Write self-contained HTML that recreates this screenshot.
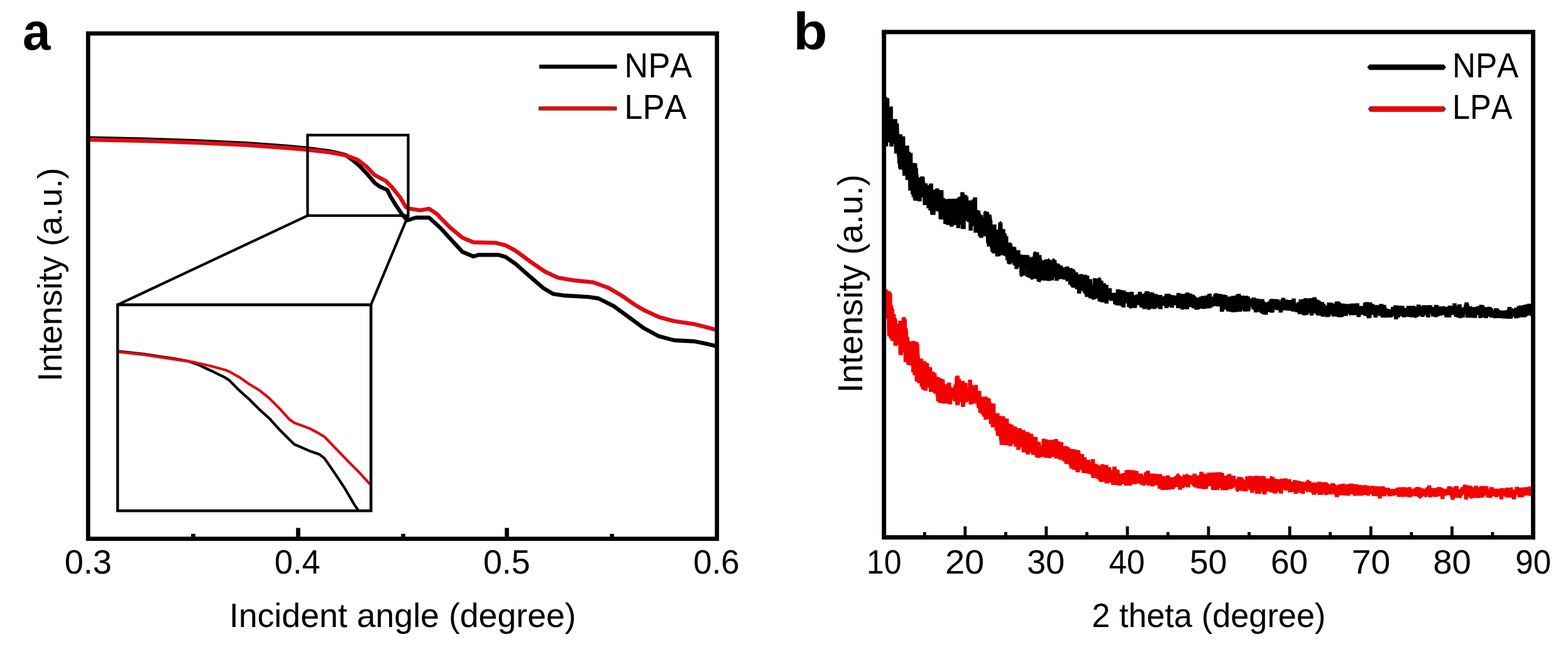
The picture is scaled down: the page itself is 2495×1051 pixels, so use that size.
<!DOCTYPE html>
<html lang="en">
<head>
<meta charset="utf-8">
<title>Intensity vs incident angle and 2 theta</title>
<style>
html,body{margin:0;padding:0;background:#fff;}
body{width:2495px;height:1051px;overflow:hidden;}
svg{display:block;}
text{font-family:"Liberation Sans", Arial, Helvetica, sans-serif;fill:#000;font-kerning:none;}
.lab{font-weight:bold;}
</style>
</head>
<body>
<svg width="2495" height="1051" viewBox="0 0 2495 1051">
<rect width="2495" height="1051" fill="#fff"/>
<g>
<g id="panel-a">
<clipPath id="ca"><rect x="140.2" y="53.2" width="1000.6" height="803.5"/></clipPath>
<g clip-path="url(#ca)" fill="none" stroke-linejoin="round" stroke-linecap="butt">
<polyline points="140.0,219.7 232.0,221.8 312.0,224.5 392.0,228.2 457.0,233.0 489.0,236.0 524.0,240.4 550.0,246.4 562.6,255.7 572.2,263.7 585.0,277.4 596.3,291.0 604.3,296.6 616.3,302.2 621.9,313.4 629.9,326.3 639.6,340.7 648.0,350.3 662.0,346.0 682.8,346.0 700.5,362.1 716.5,379.7 735.8,400.5 753.4,407.8 761.4,405.3 793.5,405.3 804.7,408.6 820.7,419.8 840.0,436.9 864.0,457.7 880.0,467.3 896.2,469.7 936.3,472.1 952.3,474.5 976.4,486.6 1000.4,504.2 1024.5,521.8 1048.5,534.7 1072.5,541.0 1104.6,542.7 1120.6,545.9 1140.0,550.3" stroke="#000" stroke-width="6.4"/>
<polyline points="140.0,222.0 232.0,224.1 312.0,226.8 392.0,230.5 457.0,235.3 489.0,238.1 524.0,242.1 550.0,246.9 569.0,254.1 582.0,263.7 596.0,278.2 614.0,287.8 623.5,297.4 636.4,313.4 646.0,329.5 652.4,331.9 668.4,334.3 682.8,331.9 695.7,340.7 700.5,346.0 716.5,362.0 735.8,378.0 753.4,385.3 788.7,386.1 804.7,390.1 820.7,398.9 844.8,416.6 867.3,432.0 888.2,441.7 912.2,445.7 944.3,448.9 968.3,457.7 992.4,472.1 1008.4,483.4 1024.5,493.0 1048.5,504.2 1072.5,510.6 1104.6,515.4 1120.6,519.4 1140.0,524.6" stroke="#e00a14" stroke-width="6.4"/>
</g>
<g fill="none" stroke="#000" stroke-width="4.2">
<rect x="489.4" y="214.8" width="160.1" height="128.0"/>
<line x1="489.4" y1="342.8" x2="187.1" y2="484.7"/>
<line x1="649.5" y1="342.8" x2="590.2" y2="484.7"/>
<rect x="187.1" y="484.7" width="403.1" height="327.4" fill="#fff"/>
</g>
<clipPath id="ci"><rect x="187.1" y="484.7" width="403.1" height="327.4"/></clipPath>
<g clip-path="url(#ci)" fill="none" stroke-linejoin="round">
<polyline points="187.0,558.4 230.2,563.2 278.3,570.4 300.0,574.4 316.0,580.0 326.4,585.0 340.0,591.3 356.1,599.3 364.1,604.1 380.2,620.2 396.2,634.6 412.2,650.6 428.3,665.0 444.3,682.7 460.3,698.7 468.3,706.5 492.4,716.9 508.4,722.5 516.4,728.9 532.5,752.1 548.5,776.2 564.5,803.4 570.5,812.0" stroke="#000" stroke-width="4.2"/>
<polyline points="187.0,559.4 230.2,564.2 278.3,571.4 310.3,576.2 334.4,581.8 358.4,588.3 364.1,590.5 380.2,599.3 396.2,610.5 412.2,620.2 428.3,633.0 444.3,649.0 460.3,666.7 468.3,672.3 492.4,681.1 508.4,689.7 516.4,694.5 532.5,711.3 556.5,736.1 572.5,752.1 590.0,771.3" stroke="#e00a14" stroke-width="4.2"/>
</g>
<rect x="187.1" y="484.7" width="403.1" height="327.4" fill="none" stroke="#000" stroke-width="4.2"/>
<rect x="140.2" y="53.2" width="1000.6" height="803.5" fill="none" stroke="#000" stroke-width="6.7" stroke-linejoin="miter"/>
<rect x="471.1" y="839.4" width="6.7" height="15" fill="#000"/>
<rect x="803.2" y="839.4" width="6.7" height="15" fill="#000"/>
<rect x="304.1" y="848.8" width="6.7" height="5.6" fill="#000"/>
<rect x="638.2" y="848.8" width="6.7" height="5.6" fill="#000"/>
<rect x="970.4" y="848.8" width="6.7" height="5.6" fill="#000"/>
<text transform="translate(102.63 912.06) scale(0.9965 1)" font-size="54.37">0.3</text>
<text transform="translate(436.80 912.06) scale(0.9657 1)" font-size="54.37">0.4</text>
<text transform="translate(768.95 912.06) scale(0.9899 1)" font-size="54.37">0.5</text>
<text transform="translate(1103.29 912.06) scale(0.9711 1)" font-size="54.37">0.6</text>
<text transform="translate(364.77 997.34) scale(1.0099 1)" font-size="53.16">Incident angle (degree)</text>
<text transform="translate(97.58 606.84) rotate(-90) scale(0.9970 1)" font-size="53.90">Intensity (a.u.)</text>
<line x1="858.2" y1="106" x2="981.6" y2="106" stroke="#000" stroke-width="6.5"/>
<line x1="857.0" y1="172.4" x2="981.6" y2="172.4" stroke="#8f2a2e" stroke-width="6.5"/>
<line x1="864.5" y1="171.6" x2="975.5" y2="171.6" stroke="#e40a06" stroke-width="4.9"/>
<text transform="translate(993.61 122.90) scale(0.9364 1)" font-size="55.94">NPA</text>
<text transform="translate(993.62 189.30) scale(0.9373 1)" font-size="55.80">LPA</text>
<text class="lab" transform="translate(35.91 78.77) scale(0.9626 1)" font-size="82.91">a</text>
</g>
<g id="panel-b">
<clipPath id="cb"><rect x="1406.6" y="50.9" width="1032.9" height="803.5"/></clipPath>
<g clip-path="url(#cb)">
<polyline points="1404.0,162.4 1404.3,201.1 1404.7,159.9 1405.0,190.4 1405.3,162.6 1405.7,160.8 1406.0,229.0 1406.3,215.8 1406.6,232.5 1407.0,185.6 1407.3,194.9 1407.6,196.3 1408.0,199.5 1408.3,209.5 1408.6,154.1 1409.0,209.9 1409.3,159.5 1409.6,193.9 1409.9,232.7 1410.3,193.3 1410.6,188.2 1410.9,209.8 1411.3,197.5 1411.6,173.5 1411.9,156.1 1412.2,185.2 1412.6,172.7 1412.9,219.9 1413.2,206.8 1413.6,226.3 1413.9,218.2 1414.2,199.7 1414.6,197.2 1414.9,195.5 1415.2,193.4 1415.5,187.6 1415.9,201.5 1416.2,180.2 1416.5,200.2 1416.9,199.9 1417.2,170.0 1417.5,170.9 1417.9,224.4 1418.2,200.8 1418.5,233.0 1418.8,216.8 1419.2,213.4 1419.5,209.1 1419.8,189.4 1420.2,222.2 1420.5,210.6 1420.8,199.5 1421.2,203.5 1421.5,219.2 1421.8,221.4 1422.2,228.6 1422.5,197.1 1422.8,223.1 1423.1,226.7 1423.5,224.7 1423.8,201.3 1424.1,224.6 1424.5,189.3 1424.8,211.7 1425.1,195.1 1425.5,220.3 1425.8,226.0 1426.1,244.3 1426.4,210.3 1426.8,226.4 1427.1,196.5 1427.4,214.7 1427.8,210.8 1428.1,227.8 1428.4,243.5 1428.8,220.2 1429.1,219.9 1429.4,239.4 1429.7,235.7 1430.1,234.6 1430.4,248.8 1430.7,242.3 1431.1,260.2 1431.4,226.9 1431.7,234.9 1432.0,245.9 1432.4,266.8 1432.7,213.5 1433.0,269.4 1433.4,246.7 1433.7,251.6 1434.0,248.5 1434.4,231.7 1434.7,254.0 1435.0,226.8 1435.3,252.1 1435.7,231.4 1436.0,246.1 1436.3,256.7 1436.7,245.9 1437.0,216.8 1437.3,252.6 1437.7,231.9 1438.0,234.9 1438.3,270.9 1438.7,241.1 1439.0,251.1 1439.3,279.5 1439.6,256.2 1440.0,265.6 1440.3,255.5 1440.6,263.7 1441.0,260.8 1441.3,255.9 1441.6,272.0 1442.0,270.0 1442.3,236.5 1442.6,272.7 1442.9,272.2 1443.3,231.5 1443.6,251.7 1443.9,286.3 1444.3,240.9 1444.6,284.2 1444.9,253.8 1445.2,272.7 1445.6,274.1 1445.9,241.6 1446.2,286.1 1446.6,283.7 1446.9,280.8 1447.2,276.7 1447.6,265.3 1447.9,243.8 1448.2,277.0 1448.5,302.9 1448.9,243.2 1449.2,273.6 1449.5,270.2 1449.9,262.3 1450.2,259.7 1450.5,288.5 1450.9,299.3 1451.2,277.2 1451.5,283.9 1451.8,261.2 1452.2,308.7 1452.5,300.4 1452.8,288.6 1453.2,288.9 1453.5,259.1 1453.8,313.1 1454.2,279.1 1454.5,276.7 1454.8,269.0 1455.2,299.0 1455.5,290.1 1455.8,317.0 1456.1,259.8 1456.5,284.0 1456.8,319.2 1457.1,293.4 1457.5,267.4 1457.8,305.4 1458.1,294.8 1458.5,277.8 1458.8,286.0 1459.1,291.1 1459.4,293.8 1459.8,317.4 1460.1,285.2 1460.4,287.2 1460.8,293.0 1461.1,313.0 1461.4,310.3 1461.8,296.5 1462.1,312.4 1462.4,287.2 1462.7,304.0 1463.1,301.7 1463.4,320.1 1463.7,284.9 1464.1,284.7 1464.4,298.8 1464.7,313.6 1465.0,290.9 1465.4,309.9 1465.7,301.8 1466.0,307.9 1466.4,302.4 1466.7,299.6 1467.0,292.2 1467.4,280.6 1467.7,290.5 1468.0,295.3 1468.3,282.4 1468.7,311.2 1469.0,289.7 1469.3,296.7 1469.7,303.3 1470.0,300.3 1470.3,302.9 1470.7,302.6 1471.0,312.9 1471.3,314.2 1471.7,325.9 1472.0,313.3 1472.3,305.8 1472.6,291.6 1473.0,320.5 1473.3,315.3 1473.6,325.3 1474.0,302.0 1474.3,307.0 1474.6,307.2 1475.0,296.5 1475.3,322.1 1475.6,294.2 1475.9,313.5 1476.3,296.4 1476.6,314.8 1476.9,318.4 1477.3,309.3 1477.6,331.2 1477.9,311.3 1478.2,309.0 1478.6,303.2 1478.9,319.3 1479.2,311.7 1479.6,311.5 1479.9,306.5 1480.2,324.6 1480.6,334.7 1480.9,328.6 1481.2,330.6 1481.5,291.8 1481.9,307.4 1482.2,311.9 1482.5,316.9 1482.9,304.6 1483.2,334.2 1483.5,341.1 1483.9,303.3 1484.2,313.5 1484.5,319.5 1484.8,326.1 1485.2,341.7 1485.5,335.4 1485.8,328.7 1486.2,321.4 1486.5,321.2 1486.8,332.7 1487.2,301.5 1487.5,317.0 1487.8,303.7 1488.2,330.6 1488.5,320.4 1488.8,335.0 1489.1,318.2 1489.5,317.9 1489.8,309.9 1490.1,335.3 1490.5,324.0 1490.8,314.8 1491.1,299.7 1491.5,314.0 1491.8,334.3 1492.1,315.5 1492.4,302.0 1492.8,316.1 1493.1,318.3 1493.4,336.2 1493.8,310.2 1494.1,323.2 1494.4,322.1 1494.8,318.9 1495.1,312.3 1495.4,311.4 1495.7,317.2 1496.1,337.1 1496.4,313.1 1496.7,347.7 1497.1,324.7 1497.4,348.9 1497.7,337.0 1498.0,302.4 1498.4,327.2 1498.7,348.2 1499.0,347.1 1499.4,345.7 1499.7,323.6 1500.0,334.2 1500.4,316.8 1500.7,314.8 1501.0,332.9 1501.3,324.4 1501.7,316.5 1502.0,333.1 1502.3,337.2 1502.7,323.5 1503.0,329.3 1503.3,324.3 1503.7,346.5 1504.0,328.0 1504.3,356.1 1504.7,316.5 1505.0,345.7 1505.3,342.8 1505.6,326.1 1506.0,319.0 1506.3,324.9 1506.6,335.1 1507.0,336.8 1507.3,329.9 1507.6,318.5 1508.0,318.9 1508.3,333.6 1508.6,357.7 1508.9,346.9 1509.3,334.6 1509.6,347.9 1509.9,329.0 1510.3,339.7 1510.6,332.3 1510.9,316.0 1511.2,338.4 1511.6,344.9 1511.9,341.0 1512.2,329.6 1512.6,357.3 1512.9,344.9 1513.2,347.0 1513.6,352.8 1513.9,351.4 1514.2,360.4 1514.5,326.6 1514.9,333.6 1515.2,348.6 1515.5,345.7 1515.9,331.7 1516.2,329.2 1516.5,348.1 1516.9,316.3 1517.2,329.0 1517.5,330.7 1517.8,335.3 1518.2,338.0 1518.5,341.4 1518.8,316.0 1519.2,324.7 1519.5,354.1 1519.8,345.5 1520.2,357.8 1520.5,349.7 1520.8,334.4 1521.2,333.9 1521.5,339.7 1521.8,348.8 1522.1,340.9 1522.5,326.8 1522.8,332.7 1523.1,326.5 1523.5,332.5 1523.8,317.7 1524.1,327.5 1524.5,317.9 1524.8,362.7 1525.1,317.2 1525.4,332.7 1525.8,314.2 1526.1,352.5 1526.4,356.9 1526.8,342.3 1527.1,345.9 1527.4,341.9 1527.8,335.1 1528.1,319.1 1528.4,312.6 1528.7,313.6 1529.1,340.4 1529.4,343.0 1529.7,341.5 1530.1,330.0 1530.4,312.3 1530.7,332.6 1531.0,345.0 1531.4,305.5 1531.7,325.2 1532.0,363.7 1532.4,309.9 1532.7,353.8 1533.0,329.5 1533.4,364.2 1533.7,324.9 1534.0,321.3 1534.3,333.7 1534.7,335.4 1535.0,337.8 1535.3,343.2 1535.7,309.9 1536.0,344.6 1536.3,349.1 1536.7,315.5 1537.0,336.5 1537.3,331.1 1537.7,312.2 1538.0,350.8 1538.3,347.1 1538.6,327.5 1539.0,344.4 1539.3,349.5 1539.6,333.1 1540.0,347.3 1540.3,338.8 1540.6,325.2 1541.0,336.9 1541.3,336.8 1541.6,352.9 1541.9,318.5 1542.3,345.8 1542.6,352.6 1542.9,350.0 1543.3,351.1 1543.6,320.9 1543.9,337.5 1544.2,329.1 1544.6,366.7 1544.9,343.0 1545.2,330.0 1545.6,331.1 1545.9,335.5 1546.2,353.6 1546.6,339.4 1546.9,350.5 1547.2,359.2 1547.5,332.9 1547.9,343.2 1548.2,333.7 1548.5,328.9 1548.9,317.4 1549.2,351.4 1549.5,321.9 1549.9,344.9 1550.2,347.4 1550.5,355.7 1550.8,332.8 1551.2,344.4 1551.5,313.7 1551.8,339.2 1552.2,343.7 1552.5,370.0 1552.8,341.1 1553.2,358.4 1553.5,347.6 1553.8,357.9 1554.2,356.3 1554.5,357.3 1554.8,334.1 1555.1,363.9 1555.5,343.1 1555.8,364.6 1556.1,367.8 1556.5,350.1 1556.8,335.4 1557.1,349.8 1557.5,349.8 1557.8,339.7 1558.1,347.3 1558.4,347.4 1558.8,365.7 1559.1,372.6 1559.4,375.3 1559.8,347.7 1560.1,353.0 1560.4,363.3 1560.8,341.9 1561.1,350.7 1561.4,378.3 1561.7,361.1 1562.1,350.5 1562.4,365.3 1562.7,359.3 1563.1,352.0 1563.4,349.0 1563.7,345.7 1564.0,370.1 1564.4,363.1 1564.7,372.6 1565.0,351.6 1565.4,355.6 1565.7,348.4 1566.0,354.4 1566.4,356.1 1566.7,353.2 1567.0,346.3 1567.3,363.0 1567.7,361.7 1568.0,337.4 1568.3,375.7 1568.7,337.4 1569.0,336.8 1569.3,349.0 1569.7,336.8 1570.0,375.4 1570.3,357.5 1570.7,337.0 1571.0,363.0 1571.3,350.1 1571.6,375.1 1572.0,375.4 1572.3,386.5 1572.6,371.7 1573.0,358.7 1573.3,379.4 1573.6,392.0 1574.0,342.7 1574.3,341.4 1574.6,380.6 1574.9,344.7 1575.3,358.8 1575.6,383.9 1575.9,349.9 1576.3,382.6 1576.6,378.0 1576.9,372.9 1577.2,378.8 1577.6,376.0 1577.9,390.6 1578.2,391.3 1578.6,394.6 1578.9,386.4 1579.2,399.7 1579.6,370.8 1579.9,400.6 1580.2,367.7 1580.5,365.8 1580.9,382.7 1581.2,402.2 1581.5,371.8 1581.9,403.0 1582.2,356.9 1582.5,393.4 1582.9,382.5 1583.2,365.6 1583.5,395.4 1583.8,394.7 1584.2,367.4 1584.5,379.3 1584.8,372.1 1585.2,378.2 1585.5,386.9 1585.8,373.7 1586.2,371.2 1586.5,364.9 1586.8,407.7 1587.2,394.7 1587.5,371.4 1587.8,376.0 1588.1,390.8 1588.5,403.0 1588.8,399.7 1589.1,407.1 1589.5,379.6 1589.8,380.1 1590.1,405.9 1590.5,391.7 1590.8,377.2 1591.1,381.8 1591.4,354.6 1591.8,354.7 1592.1,359.5 1592.4,367.5 1592.8,373.3 1593.1,366.5 1593.4,381.7 1593.8,372.8 1594.1,375.5 1594.4,378.2 1594.7,400.6 1595.1,391.1 1595.4,371.4 1595.7,374.8 1596.1,382.8 1596.4,364.2 1596.7,396.8 1597.0,406.0 1597.4,386.0 1597.7,386.6 1598.0,399.1 1598.4,371.7 1598.7,373.0 1599.0,391.9 1599.4,392.5 1599.7,406.8 1600.0,383.6 1600.3,396.8 1600.7,386.3 1601.0,375.6 1601.3,390.9 1601.7,392.8 1602.0,397.7 1602.3,397.4 1602.7,409.0 1603.0,405.6 1603.3,414.0 1603.7,397.3 1604.0,394.4 1604.3,396.0 1604.6,398.1 1605.0,403.8 1605.3,418.8 1605.6,395.5 1606.0,386.1 1606.3,387.6 1606.6,420.1 1607.0,393.4 1607.3,418.1 1607.6,387.6 1607.9,414.0 1608.3,408.0 1608.6,408.9 1608.9,395.3 1609.3,406.5 1609.6,395.4 1609.9,411.1 1610.2,416.9 1610.6,414.5 1610.9,409.7 1611.2,392.0 1611.6,406.1 1611.9,404.3 1612.2,403.2 1612.6,406.6 1612.9,392.6 1613.2,412.1 1613.5,405.7 1613.9,393.0 1614.2,416.4 1614.5,421.3 1614.9,401.0 1615.2,405.1 1615.5,412.2 1615.9,414.6 1616.2,422.0 1616.5,400.0 1616.8,411.3 1617.2,398.1 1617.5,427.7 1617.8,408.2 1618.2,415.4 1618.5,421.8 1618.8,420.1 1619.2,424.3 1619.5,400.5 1619.8,416.1 1620.2,397.8 1620.5,423.5 1620.8,404.7 1621.1,417.4 1621.5,405.8 1621.8,418.0 1622.1,411.3 1622.5,424.8 1622.8,413.2 1623.1,423.8 1623.5,414.1 1623.8,414.5 1624.1,404.8 1624.4,422.2 1624.8,406.2 1625.1,409.4 1625.4,437.5 1625.8,437.6 1626.1,405.5 1626.4,423.9 1626.8,411.2 1627.1,421.5 1627.4,420.3 1627.7,413.3 1628.1,438.3 1628.4,412.0 1628.7,426.1 1629.1,417.6 1629.4,412.5 1629.7,405.6 1630.0,416.0 1630.4,408.7 1630.7,422.9 1631.0,425.7 1631.4,405.2 1631.7,418.4 1632.0,421.1 1632.4,420.5 1632.7,428.4 1633.0,422.0 1633.3,421.1 1633.7,421.9 1634.0,417.6 1634.3,415.5 1634.7,405.6 1635.0,440.3 1635.3,425.2 1635.7,426.8 1636.0,428.8 1636.3,417.5 1636.7,408.4 1637.0,415.2 1637.3,434.8 1637.6,415.9 1638.0,436.0 1638.3,441.3 1638.6,410.4 1639.0,420.1 1639.3,441.6 1639.6,438.0 1640.0,429.7 1640.3,421.7 1640.6,433.6 1640.9,425.9 1641.3,438.8 1641.6,433.1 1641.9,442.3 1642.3,442.3 1642.6,442.4 1642.9,424.5 1643.2,416.7 1643.6,418.3 1643.9,418.3 1644.2,408.0 1644.6,426.9 1644.9,422.8 1645.2,432.4 1645.6,410.4 1645.9,434.5 1646.2,443.3 1646.5,422.4 1646.9,401.7 1647.2,417.3 1647.5,434.4 1647.9,401.8 1648.2,401.4 1648.5,431.9 1648.9,420.4 1649.2,410.3 1649.5,418.8 1649.8,415.0 1650.2,401.2 1650.5,431.2 1650.8,432.6 1651.2,413.8 1651.5,421.0 1651.8,439.2 1652.2,421.0 1652.5,428.0 1652.8,447.3 1653.2,446.7 1653.5,431.9 1653.8,423.6 1654.1,405.6 1654.5,435.9 1654.8,411.4 1655.1,422.8 1655.5,445.4 1655.8,422.8 1656.1,436.8 1656.5,417.2 1656.8,431.8 1657.1,433.6 1657.4,429.8 1657.8,421.9 1658.1,435.3 1658.4,445.7 1658.8,435.6 1659.1,414.8 1659.4,435.3 1659.8,413.7 1660.1,445.9 1660.4,442.9 1660.7,429.7 1661.1,445.9 1661.4,431.1 1661.7,438.8 1662.1,433.1 1662.4,421.8 1662.7,426.3 1663.0,446.1 1663.4,422.3 1663.7,442.9 1664.0,416.7 1664.4,426.0 1664.7,435.3 1665.0,412.3 1665.4,425.0 1665.7,440.3 1666.0,435.9 1666.3,424.5 1666.7,439.8 1667.0,429.3 1667.3,418.0 1667.7,438.0 1668.0,420.2 1668.3,413.7 1668.7,413.7 1669.0,446.6 1669.3,420.5 1669.7,439.4 1670.0,444.1 1670.3,418.3 1670.6,426.0 1671.0,428.3 1671.3,417.0 1671.6,434.2 1672.0,431.8 1672.3,442.8 1672.6,443.2 1673.0,432.9 1673.3,413.7 1673.6,418.2 1673.9,445.7 1674.3,429.7 1674.6,439.9 1674.9,429.7 1675.3,441.3 1675.6,429.7 1675.9,417.3 1676.2,413.7 1676.6,413.7 1676.9,428.3 1677.2,428.8 1677.6,423.5 1677.9,413.7 1678.2,426.2 1678.6,428.4 1678.9,427.9 1679.2,424.0 1679.5,431.4 1679.9,432.7 1680.2,419.8 1680.5,436.4 1680.9,438.6 1681.2,421.5 1681.5,446.5 1681.9,435.6 1682.2,440.0 1682.5,434.9 1682.8,430.3 1683.2,420.3 1683.5,419.8 1683.8,428.2 1684.2,425.0 1684.5,428.2 1684.8,443.8 1685.2,431.4 1685.5,428.4 1685.8,429.2 1686.2,434.4 1686.5,427.8 1686.8,429.0 1687.1,429.3 1687.5,422.0 1687.8,430.5 1688.1,436.6 1688.5,437.7 1688.8,427.2 1689.1,441.1 1689.5,432.0 1689.8,429.2 1690.1,431.7 1690.4,441.7 1690.8,425.9 1691.1,425.5 1691.4,443.2 1691.8,442.5 1692.1,438.5 1692.4,441.6 1692.8,433.9 1693.1,436.1 1693.4,443.8 1693.7,436.1 1694.1,444.3 1694.4,442.5 1694.7,428.4 1695.1,439.4 1695.4,434.9 1695.7,435.1 1696.0,426.0 1696.4,438.9 1696.7,437.0 1697.0,432.1 1697.4,444.4 1697.7,424.0 1698.0,425.5 1698.4,426.7 1698.7,447.3 1699.0,441.4 1699.3,438.6 1699.7,435.8 1700.0,434.4 1700.3,436.2 1700.7,442.4 1701.0,443.5 1701.3,441.9 1701.7,439.4 1702.0,433.9 1702.3,440.7 1702.7,436.2 1703.0,452.4 1703.3,426.2 1703.6,434.8 1704.0,448.6 1704.3,442.5 1704.6,434.6 1705.0,437.4 1705.3,439.7 1705.6,437.8 1706.0,454.9 1706.3,447.1 1706.6,443.9 1706.9,427.8 1707.3,446.3 1707.6,454.5 1707.9,457.3 1708.3,430.7 1708.6,432.7 1708.9,448.1 1709.2,443.9 1709.6,442.7 1709.9,439.3 1710.2,449.6 1710.6,448.9 1710.9,446.1 1711.2,442.7 1711.6,444.7 1711.9,449.3 1712.2,433.1 1712.5,446.5 1712.9,436.6 1713.2,441.8 1713.5,441.9 1713.9,460.0 1714.2,437.7 1714.5,451.1 1714.9,444.4 1715.2,448.1 1715.5,436.5 1715.8,445.7 1716.2,454.8 1716.5,453.1 1716.8,450.1 1717.2,466.6 1717.5,459.6 1717.8,457.4 1718.2,462.7 1718.5,446.1 1718.8,449.8 1719.2,446.6 1719.5,450.4 1719.8,441.6 1720.1,436.0 1720.5,441.5 1720.8,447.9 1721.1,453.8 1721.5,445.7 1721.8,455.3 1722.1,454.6 1722.5,456.0 1722.8,462.6 1723.1,451.9 1723.4,457.6 1723.8,458.8 1724.1,449.7 1724.4,446.6 1724.8,444.2 1725.1,453.9 1725.4,455.5 1725.8,447.9 1726.1,463.4 1726.4,465.7 1726.7,436.8 1727.1,460.6 1727.4,462.5 1727.7,451.7 1728.1,451.5 1728.4,445.3 1728.7,469.0 1729.0,467.3 1729.4,469.6 1729.7,471.9 1730.0,438.3 1730.4,466.5 1730.7,452.3 1731.0,445.0 1731.4,444.9 1731.7,455.2 1732.0,457.4 1732.3,447.9 1732.7,451.1 1733.0,449.0 1733.3,444.6 1733.7,460.7 1734.0,466.0 1734.3,469.1 1734.7,443.9 1735.0,458.3 1735.3,474.4 1735.7,463.7 1736.0,458.1 1736.3,464.5 1736.6,462.2 1737.0,467.0 1737.3,462.7 1737.6,462.4 1738.0,452.9 1738.3,458.4 1738.6,464.5 1739.0,468.0 1739.3,467.6 1739.6,457.1 1739.9,474.5 1740.3,476.0 1740.6,455.8 1740.9,463.9 1741.3,468.5 1741.6,459.1 1741.9,463.5 1742.2,442.3 1742.6,464.2 1742.9,459.1 1743.2,470.8 1743.6,450.5 1743.9,459.6 1744.2,463.8 1744.6,465.3 1744.9,458.2 1745.2,455.2 1745.5,458.9 1745.9,469.0 1746.2,474.5 1746.5,455.1 1746.9,454.2 1747.2,453.6 1747.5,450.7 1747.9,457.0 1748.2,466.7 1748.5,458.1 1748.8,443.6 1749.2,443.7 1749.5,451.0 1749.8,479.1 1750.2,461.9 1750.5,455.3 1750.8,468.6 1751.2,459.0 1751.5,457.1 1751.8,479.7 1752.2,446.4 1752.5,452.0 1752.8,459.7 1753.1,458.1 1753.5,450.3 1753.8,467.5 1754.1,466.6 1754.5,480.6 1754.8,468.0 1755.1,469.9 1755.5,460.0 1755.8,471.3 1756.1,474.1 1756.4,450.3 1756.8,472.3 1757.1,477.2 1757.4,465.3 1757.8,473.2 1758.1,479.3 1758.4,472.0 1758.8,471.1 1759.1,462.5 1759.4,469.4 1759.7,475.4 1760.1,455.5 1760.4,453.0 1760.7,482.7 1761.1,468.8 1761.4,475.7 1761.7,473.2 1762.0,465.0 1762.4,467.1 1762.7,459.5 1763.0,476.4 1763.4,466.0 1763.7,464.4 1764.0,471.3 1764.4,465.4 1764.7,461.0 1765.0,468.8 1765.3,469.5 1765.7,458.3 1766.0,469.6 1766.3,470.5 1766.7,473.7 1767.0,468.5 1767.3,471.4 1767.7,469.3 1768.0,468.3 1768.3,478.4 1768.7,470.9 1769.0,475.8 1769.3,470.8 1769.6,473.6 1770.0,470.2 1770.3,472.9 1770.6,471.8 1771.0,472.8 1771.3,473.6 1771.6,472.4 1772.0,477.7 1772.3,473.6 1772.6,465.7 1772.9,470.1 1773.3,466.8 1773.6,468.5 1773.9,466.0 1774.3,480.6 1774.6,483.4 1774.9,470.5 1775.2,468.9 1775.6,470.9 1775.9,480.7 1776.2,474.1 1776.6,467.2 1776.9,485.3 1777.2,474.2 1777.6,470.6 1777.9,468.6 1778.2,479.1 1778.5,477.7 1778.9,460.1 1779.2,485.6 1779.5,477.7 1779.9,479.3 1780.2,465.6 1780.5,468.7 1780.9,462.7 1781.2,480.8 1781.5,460.7 1781.8,481.5 1782.2,479.7 1782.5,474.5 1782.8,466.7 1783.2,485.1 1783.5,473.7 1783.8,485.1 1784.2,465.6 1784.5,469.4 1784.8,473.3 1785.2,486.5 1785.5,463.7 1785.8,464.2 1786.1,461.7 1786.5,468.5 1786.8,471.0 1787.1,482.4 1787.5,469.3 1787.8,488.9 1788.1,462.2 1788.5,474.9 1788.8,482.6 1789.1,474.8 1789.4,469.7 1789.8,469.3 1790.1,465.3 1790.4,476.1 1790.8,472.3 1791.1,476.0 1791.4,480.9 1791.8,464.5 1792.1,468.1 1792.4,475.1 1792.7,467.6 1793.1,475.8 1793.4,469.2 1793.7,475.3 1794.1,481.6 1794.4,465.0 1794.7,470.8 1795.0,464.6 1795.4,477.0 1795.7,471.8 1796.0,476.4 1796.4,488.2 1796.7,469.3 1797.0,485.9 1797.4,484.8 1797.7,472.1 1798.0,488.5 1798.3,488.3 1798.7,480.3 1799.0,485.8 1799.3,473.8 1799.7,473.9 1800.0,484.2 1800.3,467.9 1800.7,464.1 1801.0,469.8 1801.3,471.9 1801.7,480.8 1802.0,478.1 1802.3,472.1 1802.6,474.0 1803.0,469.2 1803.3,480.6 1803.6,485.9 1804.0,469.5 1804.3,489.4 1804.6,486.0 1805.0,474.3 1805.3,474.3 1805.6,481.9 1805.9,489.7 1806.3,480.1 1806.6,476.9 1806.9,471.9 1807.3,477.5 1807.6,483.4 1807.9,471.9 1808.2,484.0 1808.6,471.0 1808.9,480.9 1809.2,480.7 1809.6,476.3 1809.9,477.9 1810.2,468.2 1810.6,481.7 1810.9,474.1 1811.2,472.7 1811.5,476.5 1811.9,482.7 1812.2,484.8 1812.5,476.4 1812.9,471.0 1813.2,475.1 1813.5,469.6 1813.9,464.0 1814.2,480.3 1814.5,482.7 1814.8,480.0 1815.2,482.9 1815.5,483.1 1815.8,468.5 1816.2,483.7 1816.5,488.9 1816.8,480.9 1817.2,476.1 1817.5,477.8 1817.8,474.0 1818.2,478.3 1818.5,467.4 1818.8,478.4 1819.1,482.4 1819.5,482.1 1819.8,469.6 1820.1,477.2 1820.5,477.0 1820.8,491.5 1821.1,472.0 1821.5,484.0 1821.8,471.9 1822.1,472.0 1822.4,469.0 1822.8,480.2 1823.1,465.6 1823.4,489.8 1823.8,468.0 1824.1,484.8 1824.4,474.6 1824.8,463.2 1825.1,467.0 1825.4,482.5 1825.7,463.4 1826.1,472.5 1826.4,486.3 1826.7,478.9 1827.1,473.9 1827.4,474.5 1827.7,483.9 1828.0,492.4 1828.4,484.8 1828.7,464.9 1829.0,475.3 1829.4,465.7 1829.7,478.4 1830.0,490.6 1830.4,482.7 1830.7,478.3 1831.0,476.0 1831.3,465.0 1831.7,470.1 1832.0,477.3 1832.3,487.5 1832.7,472.1 1833.0,475.3 1833.3,481.0 1833.7,465.7 1834.0,474.9 1834.3,471.8 1834.7,489.1 1835.0,475.3 1835.3,469.0 1835.6,478.4 1836.0,486.1 1836.3,472.1 1836.6,486.9 1837.0,491.1 1837.3,467.8 1837.6,481.9 1838.0,481.7 1838.3,479.0 1838.6,487.8 1838.9,485.6 1839.3,467.5 1839.6,478.0 1839.9,474.1 1840.3,474.2 1840.6,481.0 1840.9,471.7 1841.2,476.2 1841.6,481.6 1841.9,489.1 1842.2,476.3 1842.6,486.0 1842.9,488.5 1843.2,475.3 1843.6,479.0 1843.9,476.0 1844.2,481.1 1844.5,486.1 1844.9,489.4 1845.2,482.9 1845.5,472.1 1845.9,477.8 1846.2,469.1 1846.5,491.5 1846.9,482.5 1847.2,480.9 1847.5,482.0 1847.8,484.2 1848.2,476.7 1848.5,485.9 1848.8,476.0 1849.2,484.2 1849.5,479.5 1849.8,480.6 1850.2,479.1 1850.5,482.4 1850.8,474.1 1851.2,478.9 1851.5,472.8 1851.8,473.0 1852.1,474.0 1852.5,482.3 1852.8,471.7 1853.1,477.7 1853.5,479.2 1853.8,480.3 1854.1,481.4 1854.5,470.8 1854.8,486.7 1855.1,470.3 1855.4,478.6 1855.8,472.1 1856.1,490.0 1856.4,467.4 1856.8,482.7 1857.1,480.6 1857.4,473.3 1857.8,478.0 1858.1,480.8 1858.4,478.3 1858.7,481.9 1859.1,483.1 1859.4,467.1 1859.7,472.8 1860.1,471.5 1860.4,473.9 1860.7,485.5 1861.0,472.9 1861.4,472.9 1861.7,476.7 1862.0,482.5 1862.4,478.7 1862.7,487.5 1863.0,482.8 1863.4,475.6 1863.7,477.2 1864.0,482.1 1864.3,469.1 1864.7,489.1 1865.0,480.6 1865.3,481.9 1865.7,478.9 1866.0,476.1 1866.3,482.6 1866.7,472.5 1867.0,471.7 1867.3,472.5 1867.7,475.8 1868.0,477.3 1868.3,474.2 1868.6,478.6 1869.0,483.4 1869.3,482.0 1869.6,479.9 1870.0,483.9 1870.3,469.9 1870.6,473.8 1871.0,473.6 1871.3,485.3 1871.6,481.0 1871.9,479.7 1872.3,478.7 1872.6,476.4 1872.9,481.5 1873.3,481.6 1873.6,485.3 1873.9,473.7 1874.2,476.3 1874.6,490.0 1874.9,484.6 1875.2,465.9 1875.6,480.9 1875.9,479.0 1876.2,467.5 1876.6,480.7 1876.9,481.5 1877.2,483.0 1877.5,473.6 1877.9,483.5 1878.2,470.6 1878.5,482.6 1878.9,481.9 1879.2,481.3 1879.5,487.7 1879.9,471.7 1880.2,476.8 1880.5,471.4 1880.8,477.9 1881.2,474.8 1881.5,492.1 1881.8,476.0 1882.2,488.4 1882.5,490.1 1882.8,467.4 1883.2,477.8 1883.5,484.2 1883.8,487.7 1884.2,485.1 1884.5,482.6 1884.8,473.4 1885.1,483.7 1885.5,483.4 1885.8,474.1 1886.1,469.8 1886.5,477.4 1886.8,483.5 1887.1,473.2 1887.5,475.8 1887.8,480.1 1888.1,467.8 1888.4,483.0 1888.8,491.6 1889.1,471.1 1889.4,465.5 1889.8,468.2 1890.1,477.9 1890.4,470.9 1890.8,485.3 1891.1,474.3 1891.4,468.6 1891.7,476.6 1892.1,478.3 1892.4,479.9 1892.7,474.2 1893.1,476.0 1893.4,473.8 1893.7,476.9 1894.0,466.8 1894.4,488.1 1894.7,474.1 1895.0,470.9 1895.4,473.5 1895.7,475.4 1896.0,478.6 1896.4,476.1 1896.7,475.0 1897.0,477.9 1897.3,475.8 1897.7,488.5 1898.0,468.7 1898.3,477.8 1898.7,481.3 1899.0,484.1 1899.3,485.9 1899.7,489.9 1900.0,470.9 1900.3,477.0 1900.7,485.9 1901.0,488.4 1901.3,484.0 1901.6,480.4 1902.0,487.6 1902.3,485.7 1902.6,477.0 1903.0,481.4 1903.3,488.8 1903.6,492.2 1904.0,489.8 1904.3,478.4 1904.6,479.3 1904.9,478.2 1905.3,473.2 1905.6,484.8 1905.9,483.7 1906.3,492.0 1906.6,479.5 1906.9,485.3 1907.2,484.4 1907.6,480.3 1907.9,486.8 1908.2,485.2 1908.6,482.1 1908.9,489.9 1909.2,488.8 1909.6,484.4 1909.9,485.6 1910.2,481.3 1910.5,483.2 1910.9,487.5 1911.2,484.5 1911.5,471.7 1911.9,488.3 1912.2,484.1 1912.5,479.4 1912.9,473.0 1913.2,485.7 1913.5,484.3 1913.8,486.0 1914.2,470.5 1914.5,487.1 1914.8,481.5 1915.2,491.1 1915.5,479.9 1915.8,483.9 1916.2,476.9 1916.5,477.9 1916.8,489.3 1917.2,470.5 1917.5,476.1 1917.8,479.9 1918.1,483.8 1918.5,474.6 1918.8,481.2 1919.1,487.7 1919.5,472.8 1919.8,479.5 1920.1,482.4 1920.5,469.7 1920.8,490.5 1921.1,477.8 1921.4,479.4 1921.8,486.0 1922.1,478.0 1922.4,476.0 1922.8,484.8 1923.1,480.7 1923.4,485.2 1923.8,490.3 1924.1,473.6 1924.4,467.4 1924.7,468.4 1925.1,476.5 1925.4,487.7 1925.7,482.8 1926.1,489.3 1926.4,474.0 1926.7,480.9 1927.1,487.0 1927.4,485.7 1927.7,479.3 1928.0,474.0 1928.4,477.1 1928.7,475.3 1929.0,486.3 1929.4,485.2 1929.7,486.0 1930.0,483.4 1930.3,483.3 1930.7,474.0 1931.0,471.6 1931.3,476.9 1931.7,484.9 1932.0,486.0 1932.3,482.8 1932.7,477.7 1933.0,482.6 1933.3,483.4 1933.7,468.0 1934.0,484.8 1934.3,468.2 1934.6,479.2 1935.0,466.3 1935.3,482.8 1935.6,482.5 1936.0,472.9 1936.3,472.6 1936.6,472.5 1937.0,484.3 1937.3,481.8 1937.6,487.0 1937.9,480.6 1938.3,475.7 1938.6,478.5 1938.9,481.5 1939.3,471.0 1939.6,477.7 1939.9,467.2 1940.2,482.1 1940.6,475.0 1940.9,474.9 1941.2,476.7 1941.6,467.5 1941.9,476.9 1942.2,475.6 1942.6,482.1 1942.9,481.9 1943.2,486.8 1943.6,485.0 1943.9,470.6 1944.2,495.6 1944.5,484.4 1944.9,473.3 1945.2,493.7 1945.5,480.0 1945.9,468.3 1946.2,475.5 1946.5,479.7 1946.8,477.7 1947.2,483.1 1947.5,486.3 1947.8,478.5 1948.2,472.9 1948.5,478.3 1948.8,490.0 1949.2,490.6 1949.5,469.0 1949.8,479.8 1950.2,483.8 1950.5,479.9 1950.8,483.5 1951.1,485.8 1951.5,482.2 1951.8,479.9 1952.1,482.7 1952.5,488.2 1952.8,481.1 1953.1,492.3 1953.5,488.0 1953.8,471.6 1954.1,490.3 1954.4,495.0 1954.8,476.5 1955.1,488.2 1955.4,477.5 1955.8,477.1 1956.1,479.0 1956.4,481.5 1956.8,489.0 1957.1,476.7 1957.4,481.8 1957.7,472.0 1958.1,476.9 1958.4,495.7 1958.7,483.9 1959.1,486.5 1959.4,473.8 1959.7,492.3 1960.1,483.5 1960.4,471.5 1960.7,491.2 1961.0,478.5 1961.4,486.8 1961.7,478.6 1962.0,470.3 1962.4,496.4 1962.7,478.6 1963.0,496.4 1963.3,481.4 1963.7,473.2 1964.0,480.3 1964.3,483.1 1964.7,483.2 1965.0,480.4 1965.3,496.2 1965.7,472.9 1966.0,471.7 1966.3,488.2 1966.7,477.6 1967.0,489.8 1967.3,480.2 1967.6,471.9 1968.0,475.7 1968.3,482.0 1968.6,486.7 1969.0,468.2 1969.3,485.2 1969.6,476.9 1970.0,481.7 1970.3,477.6 1970.6,481.0 1970.9,480.3 1971.3,467.4 1971.6,487.1 1971.9,495.7 1972.3,477.8 1972.6,476.0 1972.9,495.7 1973.2,471.7 1973.6,479.6 1973.9,478.6 1974.2,488.5 1974.6,474.7 1974.9,490.1 1975.2,476.1 1975.6,492.6 1975.9,474.8 1976.2,478.0 1976.6,470.1 1976.9,486.3 1977.2,480.5 1977.5,493.2 1977.9,484.7 1978.2,476.4 1978.5,491.6 1978.9,482.0 1979.2,479.6 1979.5,482.2 1979.8,480.0 1980.2,485.1 1980.5,478.5 1980.8,495.2 1981.2,489.7 1981.5,480.8 1981.8,475.5 1982.2,470.4 1982.5,487.0 1982.8,495.1 1983.2,481.3 1983.5,494.9 1983.8,480.1 1984.1,486.0 1984.5,473.3 1984.8,481.3 1985.1,486.6 1985.5,471.2 1985.8,495.0 1986.1,489.9 1986.5,485.4 1986.8,493.8 1987.1,477.3 1987.4,476.1 1987.8,478.0 1988.1,481.8 1988.4,485.1 1988.8,476.0 1989.1,483.9 1989.4,480.0 1989.8,481.0 1990.1,481.6 1990.4,475.9 1990.7,478.8 1991.1,481.5 1991.4,474.6 1991.7,479.2 1992.1,478.2 1992.4,483.8 1992.7,480.9 1993.1,476.8 1993.4,477.9 1993.7,483.5 1994.0,489.7 1994.4,477.8 1994.7,473.6 1995.0,491.8 1995.4,491.4 1995.7,473.4 1996.0,480.8 1996.3,488.9 1996.7,488.7 1997.0,478.5 1997.3,490.2 1997.7,489.3 1998.0,479.3 1998.3,496.6 1998.7,489.7 1999.0,476.7 1999.3,488.7 1999.7,491.4 2000.0,493.3 2000.3,484.6 2000.6,483.1 2001.0,474.8 2001.3,488.5 2001.6,479.7 2002.0,487.6 2002.3,495.4 2002.6,493.9 2003.0,494.6 2003.3,490.6 2003.6,481.1 2003.9,486.2 2004.3,486.1 2004.6,484.9 2004.9,489.8 2005.3,488.2 2005.6,484.1 2005.9,492.3 2006.2,479.9 2006.6,483.5 2006.9,488.9 2007.2,497.4 2007.6,496.3 2007.9,475.7 2008.2,488.7 2008.6,475.7 2008.9,497.3 2009.2,497.3 2009.6,487.8 2009.9,480.2 2010.2,490.2 2010.5,488.8 2010.9,492.2 2011.2,481.4 2011.5,481.7 2011.9,481.5 2012.2,496.6 2012.5,484.5 2012.8,493.0 2013.2,487.8 2013.5,493.0 2013.8,487.2 2014.2,500.3 2014.5,487.6 2014.8,485.1 2015.2,488.9 2015.5,483.1 2015.8,488.2 2016.2,488.2 2016.5,491.7 2016.8,491.7 2017.1,480.9 2017.5,484.8 2017.8,490.5 2018.1,491.5 2018.5,488.7 2018.8,483.0 2019.1,479.9 2019.5,495.9 2019.8,481.9 2020.1,481.5 2020.4,486.5 2020.8,488.3 2021.1,490.6 2021.4,486.1 2021.8,492.6 2022.1,477.2 2022.4,491.0 2022.8,486.7 2023.1,497.1 2023.4,475.3 2023.7,480.6 2024.1,488.0 2024.4,492.8 2024.7,496.5 2025.1,488.8 2025.4,492.4 2025.7,484.6 2026.1,489.7 2026.4,483.2 2026.7,487.3 2027.0,490.9 2027.4,485.1 2027.7,489.8 2028.0,482.8 2028.4,491.9 2028.7,481.2 2029.0,480.7 2029.3,484.9 2029.7,482.1 2030.0,486.6 2030.3,475.7 2030.7,485.7 2031.0,478.2 2031.3,478.5 2031.7,490.6 2032.0,491.3 2032.3,487.9 2032.7,487.5 2033.0,481.4 2033.3,476.2 2033.6,493.1 2034.0,483.4 2034.3,484.5 2034.6,488.1 2035.0,489.1 2035.3,487.4 2035.6,489.9 2036.0,480.1 2036.3,483.7 2036.6,487.3 2036.9,482.7 2037.3,481.6 2037.6,490.9 2037.9,496.9 2038.3,481.8 2038.6,484.3 2038.9,487.5 2039.2,482.4 2039.6,484.9 2039.9,485.7 2040.2,485.2 2040.6,476.5 2040.9,489.5 2041.2,487.7 2041.6,482.6 2041.9,473.6 2042.2,493.4 2042.6,483.2 2042.9,481.0 2043.2,491.3 2043.5,492.1 2043.9,479.7 2044.2,482.4 2044.5,490.7 2044.9,479.0 2045.2,485.6 2045.5,480.0 2045.8,484.0 2046.2,476.2 2046.5,490.7 2046.8,480.7 2047.2,483.6 2047.5,487.1 2047.8,484.4 2048.2,487.6 2048.5,490.0 2048.8,490.2 2049.2,493.4 2049.5,479.5 2049.8,487.6 2050.1,485.3 2050.5,483.4 2050.8,493.9 2051.1,485.6 2051.5,485.6 2051.8,491.7 2052.1,486.2 2052.4,483.6 2052.8,477.1 2053.1,487.4 2053.4,487.8 2053.8,487.6 2054.1,480.4 2054.4,481.1 2054.8,481.4 2055.1,482.8 2055.4,485.2 2055.8,486.6 2056.1,477.5 2056.4,493.6 2056.7,482.7 2057.1,487.3 2057.4,491.4 2057.7,495.3 2058.1,490.1 2058.4,474.7 2058.7,480.8 2059.1,490.4 2059.4,484.5 2059.7,492.7 2060.0,482.3 2060.4,486.8 2060.7,484.5 2061.0,485.5 2061.4,487.4 2061.7,495.2 2062.0,484.5 2062.3,483.1 2062.7,489.0 2063.0,494.4 2063.3,487.3 2063.7,496.3 2064.0,489.8 2064.3,484.3 2064.7,486.0 2065.0,492.3 2065.3,486.5 2065.7,484.1 2066.0,492.8 2066.3,483.5 2066.6,480.6 2067.0,487.2 2067.3,488.2 2067.6,485.6 2068.0,499.4 2068.3,492.2 2068.6,491.7 2068.9,495.1 2069.3,488.9 2069.6,489.2 2069.9,476.2 2070.3,489.3 2070.6,476.0 2070.9,480.3 2071.3,483.0 2071.6,494.0 2071.9,483.8 2072.2,488.8 2072.6,487.0 2072.9,497.6 2073.2,491.6 2073.6,496.1 2073.9,484.8 2074.2,479.5 2074.6,476.2 2074.9,501.3 2075.2,489.5 2075.6,490.9 2075.9,491.1 2076.2,488.8 2076.5,487.0 2076.9,500.5 2077.2,477.7 2077.5,474.5 2077.9,476.7 2078.2,485.1 2078.5,488.0 2078.8,500.9 2079.2,483.0 2079.5,487.6 2079.8,495.3 2080.2,484.9 2080.5,475.2 2080.8,491.5 2081.2,495.6 2081.5,495.5 2081.8,483.7 2082.2,496.2 2082.5,487.6 2082.8,486.6 2083.1,495.1 2083.5,497.6 2083.8,487.5 2084.1,498.0 2084.5,474.9 2084.8,493.6 2085.1,481.2 2085.4,487.5 2085.8,474.1 2086.1,488.8 2086.4,491.3 2086.8,491.0 2087.1,501.7 2087.4,475.5 2087.8,485.8 2088.1,475.0 2088.4,492.4 2088.8,489.4 2089.1,487.9 2089.4,496.7 2089.7,481.7 2090.1,486.1 2090.4,476.1 2090.7,485.4 2091.1,476.3 2091.4,482.6 2091.7,472.7 2092.1,484.1 2092.4,489.1 2092.7,475.4 2093.0,496.9 2093.4,494.6 2093.7,477.8 2094.0,484.8 2094.4,484.3 2094.7,499.3 2095.0,485.4 2095.3,496.0 2095.7,489.3 2096.0,476.9 2096.3,496.8 2096.7,488.0 2097.0,484.5 2097.3,501.4 2097.7,483.6 2098.0,489.3 2098.3,478.2 2098.7,492.8 2099.0,501.7 2099.3,488.9 2099.6,492.7 2100.0,489.6 2100.3,486.0 2100.6,481.1 2101.0,488.6 2101.3,491.3 2101.6,493.5 2101.9,486.8 2102.3,491.4 2102.6,493.7 2102.9,490.1 2103.3,485.3 2103.6,480.2 2103.9,486.4 2104.3,483.7 2104.6,489.1 2104.9,503.5 2105.2,496.2 2105.6,492.6 2105.9,483.1 2106.2,491.8 2106.6,499.2 2106.9,489.0 2107.2,490.4 2107.6,499.8 2107.9,493.5 2108.2,499.4 2108.6,487.3 2108.9,497.1 2109.2,488.9 2109.5,501.6 2109.9,489.5 2110.2,495.9 2110.5,497.6 2110.9,490.0 2111.2,495.3 2111.5,494.1 2111.8,486.8 2112.2,504.2 2112.5,490.5 2112.8,504.2 2113.2,485.0 2113.5,498.0 2113.8,495.1 2114.2,503.0 2114.5,493.1 2114.8,481.0 2115.2,493.7 2115.5,490.3 2115.8,488.7 2116.1,499.2 2116.5,490.8 2116.8,498.2 2117.1,491.2 2117.5,485.6 2117.8,481.3 2118.1,491.5 2118.4,485.7 2118.8,494.4 2119.1,493.9 2119.4,494.9 2119.8,497.4 2120.1,482.6 2120.4,491.3 2120.8,492.5 2121.1,490.4 2121.4,489.8 2121.8,503.1 2122.1,491.9 2122.4,493.9 2122.7,494.3 2123.1,490.4 2123.4,494.3 2123.7,494.9 2124.1,500.5 2124.4,493.0 2124.7,489.4 2125.1,493.5 2125.4,492.3 2125.7,491.5 2126.0,493.6 2126.4,486.3 2126.7,488.2 2127.0,479.6 2127.4,485.3 2127.7,499.9 2128.0,503.3 2128.3,496.4 2128.7,495.5 2129.0,485.2 2129.3,484.8 2129.7,496.0 2130.0,494.4 2130.3,504.2 2130.7,482.3 2131.0,482.3 2131.3,489.9 2131.7,499.4 2132.0,486.2 2132.3,500.0 2132.6,499.4 2133.0,504.2 2133.3,500.3 2133.6,497.3 2134.0,503.5 2134.3,496.4 2134.6,504.2 2134.9,497.1 2135.3,482.7 2135.6,493.5 2135.9,483.0 2136.3,502.1 2136.6,495.8 2136.9,490.9 2137.3,482.8 2137.6,494.0 2137.9,497.2 2138.2,495.0 2138.6,496.4 2138.9,492.2 2139.2,502.1 2139.6,491.6 2139.9,493.1 2140.2,496.0 2140.6,495.6 2140.9,498.0 2141.2,497.6 2141.6,502.2 2141.9,486.5 2142.2,490.6 2142.5,490.4 2142.9,485.8 2143.2,497.4 2143.5,489.6 2143.9,483.4 2144.2,495.0 2144.5,498.7 2144.8,486.1 2145.2,490.7 2145.5,495.0 2145.8,493.6 2146.2,496.6 2146.5,493.7 2146.8,486.5 2147.2,493.1 2147.5,493.8 2147.8,498.7 2148.2,492.9 2148.5,487.5 2148.8,496.1 2149.1,491.8 2149.5,499.6 2149.8,500.1 2150.1,491.1 2150.5,490.1 2150.8,482.9 2151.1,497.6 2151.4,491.2 2151.8,501.1 2152.1,489.7 2152.4,497.9 2152.8,486.5 2153.1,482.7 2153.4,495.1 2153.8,489.8 2154.1,495.0 2154.4,482.6 2154.8,489.0 2155.1,496.0 2155.4,495.0 2155.7,492.8 2156.1,500.0 2156.4,495.5 2156.7,499.1 2157.1,499.7 2157.4,490.8 2157.7,485.8 2158.1,486.9 2158.4,498.7 2158.7,493.4 2159.0,500.9 2159.4,489.0 2159.7,482.3 2160.0,491.0 2160.4,497.6 2160.7,492.9 2161.0,487.6 2161.3,490.3 2161.7,495.9 2162.0,504.2 2162.3,497.7 2162.7,494.8 2163.0,499.9 2163.3,497.8 2163.7,489.6 2164.0,493.9 2164.3,490.0 2164.7,496.9 2165.0,494.5 2165.3,499.7 2165.6,487.9 2166.0,490.0 2166.3,488.5 2166.6,489.0 2167.0,486.8 2167.3,494.0 2167.6,493.7 2167.9,496.4 2168.3,493.9 2168.6,492.6 2168.9,500.3 2169.3,497.3 2169.6,487.3 2169.9,495.2 2170.3,489.6 2170.6,497.1 2170.9,486.8 2171.2,489.2 2171.6,498.9 2171.9,489.1 2172.2,481.4 2172.6,502.2 2172.9,484.2 2173.2,496.9 2173.6,496.4 2173.9,500.7 2174.2,492.6 2174.6,480.4 2174.9,502.4 2175.2,494.5 2175.5,495.5 2175.9,489.4 2176.2,486.2 2176.5,486.9 2176.9,493.0 2177.2,495.5 2177.5,503.9 2177.8,499.5 2178.2,506.0 2178.5,490.9 2178.8,494.2 2179.2,505.7 2179.5,492.0 2179.8,485.6 2180.2,480.9 2180.5,496.7 2180.8,494.9 2181.2,495.3 2181.5,487.9 2181.8,495.1 2182.1,493.2 2182.5,490.9 2182.8,487.6 2183.1,498.0 2183.5,500.2 2183.8,483.4 2184.1,487.3 2184.4,498.6 2184.8,488.5 2185.1,490.5 2185.4,490.9 2185.8,496.4 2186.1,491.5 2186.4,486.6 2186.8,488.7 2187.1,499.9 2187.4,497.5 2187.8,500.5 2188.1,497.2 2188.4,490.2 2188.7,504.8 2189.1,487.6 2189.4,486.2 2189.7,498.9 2190.1,495.9 2190.4,490.5 2190.7,487.8 2191.1,485.4 2191.4,494.0 2191.7,494.1 2192.0,491.9 2192.4,496.6 2192.7,496.2 2193.0,488.8 2193.4,493.8 2193.7,488.2 2194.0,489.8 2194.3,485.9 2194.7,488.4 2195.0,498.1 2195.3,498.4 2195.7,494.7 2196.0,502.3 2196.3,499.0 2196.7,496.3 2197.0,491.7 2197.3,483.6 2197.7,493.6 2198.0,483.3 2198.3,489.0 2198.6,492.3 2199.0,501.0 2199.3,490.7 2199.6,502.1 2200.0,499.7 2200.3,504.9 2200.6,496.6 2200.9,494.7 2201.3,501.2 2201.6,494.6 2201.9,494.9 2202.3,484.8 2202.6,493.2 2202.9,491.6 2203.3,495.9 2203.6,494.8 2203.9,489.3 2204.2,498.4 2204.6,492.8 2204.9,495.7 2205.2,500.4 2205.6,495.1 2205.9,504.9 2206.2,499.0 2206.6,498.3 2206.9,491.3 2207.2,495.9 2207.6,504.1 2207.9,492.0 2208.2,500.0 2208.5,496.0 2208.9,498.7 2209.2,491.8 2209.5,496.6 2209.9,496.2 2210.2,496.1 2210.5,492.8 2210.8,497.7 2211.2,495.5 2211.5,492.5 2211.8,495.9 2212.2,495.5 2212.5,499.8 2212.8,504.6 2213.2,498.2 2213.5,494.1 2213.8,494.7 2214.2,494.8 2214.5,501.6 2214.8,497.8 2215.1,492.1 2215.5,502.8 2215.8,491.9 2216.1,503.0 2216.5,488.2 2216.8,491.4 2217.1,498.4 2217.4,497.9 2217.8,494.0 2218.1,495.2 2218.4,500.9 2218.8,490.9 2219.1,493.2 2219.4,502.2 2219.8,492.2 2220.1,502.8 2220.4,485.5 2220.8,491.3 2221.1,494.7 2221.4,507.6 2221.7,493.7 2222.1,495.6 2222.4,494.8 2222.7,497.5 2223.1,498.7 2223.4,498.7 2223.7,486.1 2224.1,503.6 2224.4,504.7 2224.7,500.5 2225.0,499.4 2225.4,486.3 2225.7,499.8 2226.0,494.3 2226.4,491.1 2226.7,493.5 2227.0,497.8 2227.3,486.2 2227.7,494.5 2228.0,492.2 2228.3,496.9 2228.7,488.0 2229.0,496.2 2229.3,493.5 2229.7,486.3 2230.0,498.1 2230.3,497.1 2230.7,500.0 2231.0,495.8 2231.3,486.3 2231.6,503.0 2232.0,494.3 2232.3,490.9 2232.6,498.4 2233.0,493.0 2233.3,498.0 2233.6,489.5 2233.9,504.5 2234.3,496.3 2234.6,496.7 2234.9,489.9 2235.3,495.6 2235.6,498.7 2235.9,496.6 2236.3,493.0 2236.6,499.8 2236.9,500.4 2237.2,498.8 2237.6,494.9 2237.9,491.1 2238.2,493.0 2238.6,500.9 2238.9,501.1 2239.2,496.8 2239.6,497.2 2239.9,501.7 2240.2,501.3 2240.6,498.4 2240.9,487.4 2241.2,490.4 2241.5,486.4 2241.9,504.0 2242.2,492.5 2242.5,492.3 2242.9,496.2 2243.2,501.9 2243.5,495.5 2243.8,495.3 2244.2,488.3 2244.5,502.9 2244.8,497.1 2245.2,499.3 2245.5,494.6 2245.8,489.0 2246.2,486.7 2246.5,504.4 2246.8,501.6 2247.2,495.3 2247.5,492.0 2247.8,492.0 2248.1,496.3 2248.5,502.4 2248.8,486.2 2249.1,494.6 2249.5,495.1 2249.8,492.0 2250.1,494.0 2250.4,495.1 2250.8,492.2 2251.1,499.6 2251.4,503.5 2251.8,503.2 2252.1,497.2 2252.4,497.6 2252.8,499.2 2253.1,500.7 2253.4,497.5 2253.8,491.7 2254.1,504.3 2254.4,487.7 2254.7,493.6 2255.1,490.4 2255.4,494.1 2255.7,494.6 2256.1,493.7 2256.4,489.8 2256.7,496.3 2257.1,484.4 2257.4,495.5 2257.7,494.5 2258.0,496.5 2258.4,501.9 2258.7,497.0 2259.0,493.8 2259.4,497.1 2259.7,487.4 2260.0,487.3 2260.3,493.5 2260.7,491.0 2261.0,486.5 2261.3,502.4 2261.7,496.4 2262.0,499.8 2262.3,488.4 2262.7,491.3 2263.0,489.3 2263.3,496.9 2263.7,503.9 2264.0,493.1 2264.3,489.1 2264.6,491.9 2265.0,496.8 2265.3,496.0 2265.6,494.2 2266.0,492.9 2266.3,485.5 2266.6,493.4 2266.9,495.8 2267.3,495.3 2267.6,493.6 2267.9,495.3 2268.3,493.9 2268.6,487.7 2268.9,501.1 2269.3,494.6 2269.6,490.2 2269.9,499.9 2270.2,497.2 2270.6,487.7 2270.9,492.3 2271.2,498.3 2271.6,488.2 2271.9,493.2 2272.2,504.3 2272.6,502.3 2272.9,493.1 2273.2,485.3 2273.6,494.6 2273.9,492.0 2274.2,488.3 2274.5,488.0 2274.9,498.0 2275.2,492.1 2275.5,497.5 2275.9,485.2 2276.2,498.7 2276.5,492.1 2276.8,494.7 2277.2,490.3 2277.5,497.9 2277.8,491.7 2278.2,494.1 2278.5,489.6 2278.8,494.2 2279.2,491.7 2279.5,488.6 2279.8,494.7 2280.2,501.3 2280.5,502.7 2280.8,492.8 2281.1,500.8 2281.5,500.0 2281.8,491.2 2282.1,492.6 2282.5,495.7 2282.8,494.4 2283.1,488.1 2283.4,491.3 2283.8,490.0 2284.1,496.4 2284.4,493.2 2284.8,504.3 2285.1,484.9 2285.4,491.9 2285.8,489.9 2286.1,490.7 2286.4,485.5 2286.8,498.0 2287.1,496.6 2287.4,488.4 2287.7,502.7 2288.1,489.2 2288.4,492.4 2288.7,490.2 2289.1,492.4 2289.4,488.8 2289.7,499.1 2290.1,490.8 2290.4,493.4 2290.7,492.5 2291.0,492.6 2291.4,492.0 2291.7,493.2 2292.0,501.1 2292.4,489.2 2292.7,487.5 2293.0,492.4 2293.3,491.6 2293.7,495.9 2294.0,493.2 2294.3,499.5 2294.7,499.8 2295.0,489.4 2295.3,490.4 2295.7,487.7 2296.0,488.4 2296.3,497.2 2296.7,489.2 2297.0,499.5 2297.3,497.3 2297.6,498.7 2298.0,493.3 2298.3,497.5 2298.6,493.9 2299.0,491.3 2299.3,498.1 2299.6,487.9 2299.9,496.9 2300.3,500.9 2300.6,499.5 2300.9,488.4 2301.3,504.5 2301.6,498.3 2301.9,495.1 2302.3,498.4 2302.6,495.4 2302.9,491.0 2303.2,497.5 2303.6,497.0 2303.9,500.3 2304.2,494.0 2304.6,488.4 2304.9,497.8 2305.2,497.5 2305.6,497.0 2305.9,504.6 2306.2,492.2 2306.6,492.6 2306.9,485.9 2307.2,492.1 2307.5,498.9 2307.9,498.3 2308.2,500.3 2308.5,492.2 2308.9,487.9 2309.2,499.8 2309.5,500.2 2309.8,487.2 2310.2,491.7 2310.5,494.1 2310.8,497.5 2311.2,491.9 2311.5,489.7 2311.8,494.4 2312.2,488.8 2312.5,492.6 2312.8,493.7 2313.2,497.9 2313.5,488.6 2313.8,497.3 2314.1,494.0 2314.5,482.3 2314.8,491.5 2315.1,495.2 2315.5,489.8 2315.8,500.4 2316.1,496.4 2316.4,493.8 2316.8,503.7 2317.1,500.1 2317.4,490.4 2317.8,488.5 2318.1,493.1 2318.4,486.1 2318.8,499.0 2319.1,488.0 2319.4,502.6 2319.8,494.1 2320.1,504.7 2320.4,495.1 2320.7,497.6 2321.1,492.3 2321.4,494.2 2321.7,503.8 2322.1,494.0 2322.4,483.9 2322.7,491.8 2323.1,494.2 2323.4,492.8 2323.7,505.8 2324.0,499.6 2324.4,490.7 2324.7,499.7 2325.0,489.8 2325.4,501.1 2325.7,491.8 2326.0,490.1 2326.3,495.5 2326.7,499.1 2327.0,496.8 2327.3,504.4 2327.7,501.2 2328.0,489.9 2328.3,492.9 2328.7,495.8 2329.0,493.6 2329.3,492.7 2329.7,490.3 2330.0,489.8 2330.3,494.1 2330.6,496.8 2331.0,490.8 2331.3,498.9 2331.6,489.7 2332.0,489.5 2332.3,497.5 2332.6,484.7 2332.9,492.5 2333.3,491.9 2333.6,480.8 2333.9,493.0 2334.3,483.7 2334.6,488.8 2334.9,505.0 2335.3,495.3 2335.6,491.3 2335.9,493.5 2336.2,493.2 2336.6,498.8 2336.9,488.9 2337.2,505.0 2337.6,495.1 2337.9,505.1 2338.2,494.5 2338.6,495.0 2338.9,487.0 2339.2,494.0 2339.6,491.4 2339.9,491.6 2340.2,496.1 2340.5,495.7 2340.9,489.0 2341.2,497.5 2341.5,500.9 2341.9,498.9 2342.2,491.6 2342.5,505.2 2342.8,489.4 2343.2,491.0 2343.5,488.8 2343.8,500.8 2344.2,503.5 2344.5,494.0 2344.8,488.5 2345.2,490.9 2345.5,489.3 2345.8,492.6 2346.2,496.0 2346.5,500.5 2346.8,495.0 2347.1,505.3 2347.5,498.9 2347.8,491.6 2348.1,497.8 2348.5,497.5 2348.8,494.7 2349.1,498.9 2349.4,494.2 2349.8,489.7 2350.1,493.9 2350.4,494.3 2350.8,500.6 2351.1,497.2 2351.4,487.7 2351.8,491.1 2352.1,489.7 2352.4,500.0 2352.8,486.8 2353.1,494.5 2353.4,492.8 2353.7,486.6 2354.1,499.9 2354.4,495.6 2354.7,488.3 2355.1,494.9 2355.4,491.5 2355.7,505.6 2356.1,495.9 2356.4,492.8 2356.7,488.2 2357.0,484.9 2357.4,500.8 2357.7,492.5 2358.0,487.5 2358.4,501.8 2358.7,503.7 2359.0,485.6 2359.3,502.4 2359.7,501.1 2360.0,498.0 2360.3,494.1 2360.7,494.8 2361.0,495.0 2361.3,499.1 2361.7,499.5 2362.0,492.1 2362.3,504.3 2362.7,488.6 2363.0,495.1 2363.3,493.9 2363.6,495.9 2364.0,491.6 2364.3,496.0 2364.6,505.9 2365.0,495.1 2365.3,497.1 2365.6,497.9 2365.9,488.4 2366.3,497.8 2366.6,501.2 2366.9,496.8 2367.3,496.3 2367.6,495.4 2367.9,500.5 2368.3,496.6 2368.6,492.2 2368.9,499.6 2369.2,503.2 2369.6,489.9 2369.9,497.0 2370.2,496.8 2370.6,489.4 2370.9,488.8 2371.2,499.6 2371.6,495.4 2371.9,502.4 2372.2,502.3 2372.6,490.7 2372.9,493.5 2373.2,497.1 2373.5,504.6 2373.9,497.5 2374.2,496.4 2374.5,501.4 2374.9,495.2 2375.2,501.3 2375.5,503.1 2375.8,496.7 2376.2,495.3 2376.5,501.8 2376.8,503.5 2377.2,496.0 2377.5,493.6 2377.8,497.2 2378.2,502.3 2378.5,500.4 2378.8,505.7 2379.2,500.2 2379.5,499.8 2379.8,501.4 2380.1,496.2 2380.5,490.2 2380.8,499.9 2381.1,498.6 2381.5,497.5 2381.8,500.5 2382.1,490.9 2382.4,499.1 2382.8,502.9 2383.1,499.4 2383.4,496.2 2383.8,503.8 2384.1,493.7 2384.4,493.0 2384.8,505.7 2385.1,496.2 2385.4,499.0 2385.8,500.7 2386.1,505.2 2386.4,499.0 2386.7,500.5 2387.1,496.6 2387.4,499.2 2387.7,493.8 2388.1,497.4 2388.4,495.0 2388.7,498.2 2389.1,505.7 2389.4,502.4 2389.7,501.8 2390.0,502.7 2390.4,497.2 2390.7,497.7 2391.0,500.0 2391.4,499.0 2391.7,500.1 2392.0,496.8 2392.3,501.7 2392.7,495.6 2393.0,496.7 2393.3,496.5 2393.7,504.5 2394.0,506.0 2394.3,501.6 2394.7,493.6 2395.0,502.9 2395.3,503.4 2395.7,497.8 2396.0,503.5 2396.3,497.1 2396.6,504.6 2397.0,498.8 2397.3,499.3 2397.6,497.8 2398.0,496.2 2398.3,506.7 2398.6,498.1 2398.9,497.0 2399.3,498.9 2399.6,502.9 2399.9,499.2 2400.3,504.5 2400.6,492.2 2400.9,495.3 2401.3,494.5 2401.6,498.3 2401.9,488.0 2402.2,500.6 2402.6,499.7 2402.9,501.2 2403.2,506.7 2403.6,496.9 2403.9,496.1 2404.2,505.6 2404.6,490.6 2404.9,494.3 2405.2,499.7 2405.6,502.7 2405.9,496.8 2406.2,500.1 2406.5,496.8 2406.9,502.9 2407.2,499.7 2407.5,502.1 2407.9,493.6 2408.2,491.5 2408.5,495.5 2408.8,495.4 2409.2,496.6 2409.5,498.9 2409.8,496.3 2410.2,500.4 2410.5,495.6 2410.8,493.2 2411.2,494.3 2411.5,496.5 2411.8,498.8 2412.2,505.1 2412.5,489.4 2412.8,506.1 2413.1,495.0 2413.5,496.1 2413.8,494.5 2414.1,500.4 2414.5,495.0 2414.8,500.6 2415.1,493.2 2415.4,503.3 2415.8,504.8 2416.1,498.3 2416.4,503.7 2416.8,486.5 2417.1,500.4 2417.4,488.7 2417.8,498.8 2418.1,491.0 2418.4,496.6 2418.8,498.9 2419.1,495.5 2419.4,494.7 2419.7,489.1 2420.1,485.9 2420.4,495.0 2420.7,494.4 2421.1,489.1 2421.4,501.8 2421.7,501.9 2422.1,497.8 2422.4,496.4 2422.7,487.9 2423.0,499.0 2423.4,488.0 2423.7,496.9 2424.0,495.0 2424.4,500.5 2424.7,494.6 2425.0,497.4 2425.3,498.9 2425.7,504.5 2426.0,484.9 2426.3,493.6 2426.7,491.7 2427.0,491.0 2427.3,502.7 2427.7,495.2 2428.0,487.2 2428.3,498.8 2428.7,484.5 2429.0,494.8 2429.3,484.4 2429.6,501.5 2430.0,497.2 2430.3,497.8 2430.6,500.4 2431.0,484.1 2431.3,487.1 2431.6,496.9 2431.9,494.8 2432.3,499.7 2432.6,484.5 2432.9,485.1 2433.3,483.7 2433.6,496.5 2433.9,490.7 2434.3,485.2 2434.6,498.9 2434.9,484.9 2435.2,483.4 2435.6,488.6 2435.9,486.3 2436.2,496.4 2436.6,499.7 2436.9,501.6 2437.2,495.4 2437.6,495.2 2437.9,488.5 2438.2,496.7 2438.6,502.8 2438.9,499.5 2439.2,493.1 2439.5,498.1 2439.9,484.1 2440.2,486.8 2440.5,494.1 2440.9,494.3 2441.2,496.6 2441.5,492.3 2441.9,495.1" fill="none" stroke="#000" stroke-width="6.6" stroke-linejoin="bevel"/>
<polyline points="1404.0,515.0 1404.3,466.2 1404.7,470.2 1405.0,475.5 1405.3,492.2 1405.7,503.1 1406.0,492.8 1406.3,486.7 1406.6,457.6 1407.0,483.6 1407.3,490.7 1407.6,463.6 1408.0,502.1 1408.3,483.3 1408.6,463.8 1409.0,475.5 1409.3,459.9 1409.6,491.0 1409.9,480.1 1410.3,478.5 1410.6,491.7 1410.9,477.7 1411.3,502.6 1411.6,493.3 1411.9,482.2 1412.2,506.9 1412.6,496.4 1412.9,469.8 1413.2,500.4 1413.6,465.3 1413.9,462.7 1414.2,484.1 1414.6,524.8 1414.9,532.9 1415.2,534.2 1415.5,505.4 1415.9,517.5 1416.2,465.6 1416.5,501.1 1416.9,482.4 1417.2,505.4 1417.5,511.2 1417.9,538.5 1418.2,486.5 1418.5,495.6 1418.8,506.2 1419.2,509.0 1419.5,529.4 1419.8,491.2 1420.2,542.2 1420.5,507.4 1420.8,499.4 1421.2,508.7 1421.5,508.5 1421.8,521.1 1422.2,499.9 1422.5,536.6 1422.8,534.1 1423.1,527.2 1423.5,512.7 1423.8,506.2 1424.1,516.9 1424.5,509.2 1424.8,549.5 1425.1,548.3 1425.5,520.6 1425.8,547.0 1426.1,532.0 1426.4,519.6 1426.8,534.9 1427.1,529.0 1427.4,523.4 1427.8,541.2 1428.1,532.3 1428.4,531.3 1428.8,535.1 1429.1,528.1 1429.4,521.7 1429.7,541.7 1430.1,531.4 1430.4,523.7 1430.7,515.1 1431.1,530.9 1431.4,523.1 1431.7,545.2 1432.0,548.3 1432.4,510.1 1432.7,563.2 1433.0,537.7 1433.4,564.8 1433.7,541.7 1434.0,524.1 1434.4,540.9 1434.7,530.3 1435.0,530.4 1435.3,522.9 1435.7,530.4 1436.0,527.2 1436.3,538.9 1436.7,541.2 1437.0,535.4 1437.3,515.7 1437.7,543.5 1438.0,504.2 1438.3,533.8 1438.7,548.8 1439.0,545.1 1439.3,560.3 1439.6,507.3 1440.0,534.7 1440.3,526.7 1440.6,522.5 1441.0,575.8 1441.3,522.2 1441.6,532.0 1442.0,569.2 1442.3,537.3 1442.6,567.9 1442.9,558.9 1443.3,568.6 1443.6,535.6 1443.9,567.0 1444.3,557.5 1444.6,568.3 1444.9,568.5 1445.2,578.3 1445.6,542.2 1445.9,555.2 1446.2,580.2 1446.6,543.4 1446.9,580.7 1447.2,569.1 1447.6,563.8 1447.9,562.3 1448.2,560.5 1448.5,544.0 1448.9,569.9 1449.2,576.1 1449.5,548.3 1449.9,561.4 1450.2,556.3 1450.5,564.1 1450.9,548.8 1451.2,549.7 1451.5,568.4 1451.8,576.6 1452.2,562.2 1452.5,581.9 1452.8,556.4 1453.2,592.1 1453.5,542.1 1453.8,554.2 1454.2,590.6 1454.5,561.5 1454.8,577.5 1455.2,568.7 1455.5,596.8 1455.8,585.7 1456.1,557.2 1456.5,556.1 1456.8,596.6 1457.1,570.6 1457.5,569.3 1457.8,543.5 1458.1,578.1 1458.5,584.0 1458.8,606.4 1459.1,604.2 1459.4,546.3 1459.8,562.5 1460.1,581.7 1460.4,563.8 1460.8,593.2 1461.1,571.9 1461.4,571.9 1461.8,602.5 1462.1,591.2 1462.4,609.2 1462.7,598.1 1463.1,601.2 1463.4,576.5 1463.7,596.3 1464.1,574.2 1464.4,586.8 1464.7,596.2 1465.0,583.0 1465.4,585.5 1465.7,570.2 1466.0,580.5 1466.4,592.1 1466.7,614.8 1467.0,591.2 1467.4,575.4 1467.7,613.9 1468.0,585.2 1468.3,591.8 1468.7,617.9 1469.0,594.2 1469.3,578.4 1469.7,589.1 1470.0,619.6 1470.3,606.8 1470.7,574.4 1471.0,602.3 1471.3,583.7 1471.7,604.2 1472.0,591.4 1472.3,586.9 1472.6,621.1 1473.0,576.8 1473.3,602.2 1473.6,579.0 1474.0,601.6 1474.3,581.1 1474.6,579.6 1475.0,577.6 1475.3,584.4 1475.6,597.2 1475.9,587.3 1476.3,588.2 1476.6,599.8 1476.9,584.1 1477.3,602.8 1477.6,603.6 1477.9,615.0 1478.2,609.7 1478.6,606.6 1478.9,585.8 1479.2,616.2 1479.6,615.1 1479.9,583.8 1480.2,616.0 1480.6,592.7 1480.9,592.8 1481.2,623.2 1481.5,603.3 1481.9,617.5 1482.2,621.5 1482.5,599.9 1482.9,619.3 1483.2,618.1 1483.5,611.7 1483.9,611.6 1484.2,611.6 1484.5,591.0 1484.8,618.3 1485.2,605.9 1485.5,602.6 1485.8,595.0 1486.2,616.4 1486.5,613.9 1486.8,594.6 1487.2,595.5 1487.5,613.0 1487.8,624.5 1488.2,598.7 1488.5,625.9 1488.8,618.4 1489.1,622.0 1489.5,607.1 1489.8,612.6 1490.1,611.0 1490.5,612.4 1490.8,614.8 1491.1,618.4 1491.5,599.2 1491.8,624.7 1492.1,631.0 1492.4,623.8 1492.8,637.9 1493.1,618.2 1493.4,610.6 1493.8,619.8 1494.1,621.1 1494.4,600.8 1494.8,634.9 1495.1,640.1 1495.4,617.0 1495.7,628.0 1496.1,622.0 1496.4,604.0 1496.7,619.7 1497.1,623.7 1497.4,602.3 1497.7,622.5 1498.0,621.2 1498.4,641.0 1498.7,621.9 1499.0,614.1 1499.4,625.4 1499.7,629.1 1500.0,603.6 1500.4,614.0 1500.7,640.7 1501.0,615.6 1501.3,619.5 1501.7,611.0 1502.0,641.7 1502.3,634.4 1502.7,617.7 1503.0,618.8 1503.3,628.9 1503.7,630.5 1504.0,610.7 1504.3,619.3 1504.7,640.7 1505.0,628.1 1505.3,625.1 1505.6,616.9 1506.0,631.9 1506.3,629.4 1506.6,621.1 1507.0,614.2 1507.3,622.1 1507.6,641.7 1508.0,633.8 1508.3,626.7 1508.6,634.4 1508.9,613.8 1509.3,635.8 1509.6,631.8 1509.9,623.3 1510.3,608.3 1510.6,621.0 1510.9,636.2 1511.2,621.9 1511.6,643.0 1511.9,631.7 1512.2,630.6 1512.6,623.1 1512.9,634.8 1513.2,616.6 1513.6,631.7 1513.9,615.7 1514.2,622.1 1514.5,627.7 1514.9,617.3 1515.2,623.0 1515.5,624.2 1515.9,631.5 1516.2,629.6 1516.5,634.8 1516.9,631.4 1517.2,621.8 1517.5,629.7 1517.8,626.2 1518.2,628.9 1518.5,624.7 1518.8,622.1 1519.2,637.8 1519.5,626.1 1519.8,626.4 1520.2,618.7 1520.5,611.7 1520.8,620.1 1521.2,637.9 1521.5,617.6 1521.8,628.2 1522.1,614.3 1522.5,599.1 1522.8,608.6 1523.1,644.0 1523.5,597.3 1523.8,605.0 1524.1,644.3 1524.5,619.9 1524.8,631.2 1525.1,631.8 1525.4,609.6 1525.8,602.3 1526.1,622.3 1526.4,635.1 1526.8,606.5 1527.1,605.6 1527.4,623.3 1527.8,616.0 1528.1,618.4 1528.4,634.2 1528.7,621.9 1529.1,608.0 1529.4,639.0 1529.7,626.9 1530.1,635.9 1530.4,639.0 1530.7,616.0 1531.0,622.0 1531.4,631.7 1531.7,605.9 1532.0,609.0 1532.4,646.9 1532.7,640.3 1533.0,616.7 1533.4,628.8 1533.7,610.1 1534.0,616.1 1534.3,610.4 1534.7,626.8 1535.0,620.7 1535.3,621.0 1535.7,621.7 1536.0,633.9 1536.3,608.9 1536.7,629.9 1537.0,639.8 1537.3,622.2 1537.7,628.7 1538.0,616.8 1538.3,627.2 1538.6,622.1 1539.0,617.8 1539.3,624.1 1539.6,618.3 1540.0,633.1 1540.3,630.9 1540.6,621.7 1541.0,631.1 1541.3,626.1 1541.6,637.5 1541.9,629.7 1542.3,628.1 1542.6,618.6 1542.9,617.3 1543.3,638.0 1543.6,603.7 1543.9,629.6 1544.2,613.5 1544.6,643.2 1544.9,619.1 1545.2,611.8 1545.6,622.7 1545.9,632.7 1546.2,634.7 1546.6,624.6 1546.9,629.6 1547.2,640.3 1547.5,627.5 1547.9,614.7 1548.2,623.0 1548.5,635.3 1548.9,624.4 1549.2,626.2 1549.5,641.8 1549.9,622.5 1550.2,627.5 1550.5,628.2 1550.8,616.8 1551.2,633.7 1551.5,620.1 1551.8,632.6 1552.2,624.7 1552.5,633.4 1552.8,612.0 1553.2,631.7 1553.5,633.4 1553.8,627.4 1554.2,640.1 1554.5,631.6 1554.8,623.5 1555.1,631.8 1555.5,633.6 1555.8,641.4 1556.1,635.4 1556.5,641.9 1556.8,635.8 1557.1,644.8 1557.5,648.6 1557.8,643.0 1558.1,621.5 1558.4,630.6 1558.8,631.2 1559.1,643.5 1559.4,633.7 1559.8,656.3 1560.1,648.0 1560.4,656.5 1560.8,641.4 1561.1,630.8 1561.4,645.4 1561.7,657.0 1562.1,640.5 1562.4,645.8 1562.7,639.7 1563.1,652.3 1563.4,655.1 1563.7,658.7 1564.0,640.8 1564.4,647.7 1564.7,634.9 1565.0,646.1 1565.4,649.6 1565.7,647.4 1566.0,662.5 1566.4,636.9 1566.7,655.6 1567.0,658.7 1567.3,653.4 1567.7,630.6 1568.0,657.2 1568.3,661.9 1568.7,667.3 1569.0,648.1 1569.3,650.0 1569.7,638.0 1570.0,631.8 1570.3,664.1 1570.7,664.8 1571.0,638.1 1571.3,652.1 1571.6,650.1 1572.0,663.9 1572.3,664.7 1572.6,666.0 1573.0,662.0 1573.3,633.6 1573.6,660.4 1574.0,638.6 1574.3,650.1 1574.6,664.3 1574.9,640.4 1575.3,653.9 1575.6,663.3 1575.9,656.9 1576.3,661.5 1576.6,642.5 1576.9,674.3 1577.2,665.9 1577.6,650.3 1577.9,674.7 1578.2,648.5 1578.6,666.1 1578.9,665.8 1579.2,668.6 1579.6,669.3 1579.9,679.4 1580.2,656.8 1580.5,662.7 1580.9,641.6 1581.2,672.5 1581.5,657.7 1581.9,671.5 1582.2,665.4 1582.5,665.9 1582.9,660.5 1583.2,662.7 1583.5,676.6 1583.8,666.1 1584.2,664.0 1584.5,662.3 1584.8,665.6 1585.2,669.4 1585.5,667.1 1585.8,684.1 1586.2,681.3 1586.5,685.0 1586.8,668.1 1587.2,657.1 1587.5,678.7 1587.8,688.1 1588.1,692.8 1588.5,677.8 1588.8,678.8 1589.1,670.2 1589.5,688.8 1589.8,661.2 1590.1,677.7 1590.5,681.1 1590.8,665.0 1591.1,677.5 1591.4,693.2 1591.8,672.8 1592.1,690.5 1592.4,671.4 1592.8,694.9 1593.1,700.2 1593.4,690.9 1593.8,707.5 1594.1,683.7 1594.4,669.9 1594.7,682.8 1595.1,698.8 1595.4,707.4 1595.7,695.8 1596.1,661.7 1596.4,692.3 1596.7,665.4 1597.0,679.7 1597.4,702.8 1597.7,685.0 1598.0,691.6 1598.4,689.0 1598.7,690.7 1599.0,676.3 1599.4,675.0 1599.7,686.2 1600.0,682.1 1600.3,684.7 1600.7,708.0 1601.0,692.3 1601.3,665.6 1601.7,703.1 1602.0,665.8 1602.3,691.0 1602.7,680.0 1603.0,680.0 1603.3,691.1 1603.7,702.1 1604.0,688.4 1604.3,688.3 1604.6,694.6 1605.0,694.8 1605.3,697.8 1605.6,700.3 1606.0,673.6 1606.3,686.0 1606.6,686.9 1607.0,678.5 1607.3,700.3 1607.6,709.5 1607.9,685.5 1608.3,700.6 1608.6,683.8 1608.9,705.3 1609.3,675.1 1609.6,692.1 1609.9,692.7 1610.2,683.1 1610.6,690.0 1610.9,680.8 1611.2,684.0 1611.6,692.6 1611.9,698.2 1612.2,695.5 1612.6,702.5 1612.9,691.8 1613.2,705.9 1613.5,688.3 1613.9,694.8 1614.2,694.7 1614.5,681.4 1614.9,678.1 1615.2,688.9 1615.5,706.2 1615.9,695.6 1616.2,694.7 1616.5,710.1 1616.8,683.4 1617.2,686.3 1617.5,701.3 1617.8,688.8 1618.2,704.7 1618.5,708.3 1618.8,702.0 1619.2,681.2 1619.5,701.7 1619.8,702.0 1620.2,688.1 1620.5,715.5 1620.8,694.4 1621.1,694.3 1621.5,680.8 1621.8,692.4 1622.1,702.7 1622.5,698.1 1622.8,681.3 1623.1,711.4 1623.5,700.9 1623.8,700.7 1624.1,700.0 1624.4,710.8 1624.8,700.0 1625.1,687.6 1625.4,694.0 1625.8,702.1 1626.1,703.4 1626.4,707.7 1626.8,697.7 1627.1,699.4 1627.4,692.3 1627.7,702.8 1628.1,709.9 1628.4,683.7 1628.7,719.1 1629.1,697.0 1629.4,697.5 1629.7,704.7 1630.0,716.1 1630.4,707.9 1630.7,709.2 1631.0,707.9 1631.4,702.2 1631.7,694.6 1632.0,702.6 1632.4,699.7 1632.7,697.3 1633.0,695.2 1633.3,699.9 1633.7,697.9 1634.0,704.3 1634.3,717.9 1634.7,686.8 1635.0,712.1 1635.3,722.5 1635.7,715.5 1636.0,710.2 1636.3,717.0 1636.7,704.1 1637.0,688.9 1637.3,709.6 1637.6,711.2 1638.0,695.3 1638.3,710.2 1638.6,699.9 1639.0,714.2 1639.3,697.9 1639.6,697.8 1640.0,720.1 1640.3,696.0 1640.6,705.2 1640.9,690.0 1641.3,698.7 1641.6,701.6 1641.9,713.1 1642.3,717.3 1642.6,713.5 1642.9,717.6 1643.2,716.0 1643.6,716.3 1643.9,715.9 1644.2,723.3 1644.6,714.7 1644.9,717.0 1645.2,723.2 1645.6,706.2 1645.9,716.8 1646.2,709.9 1646.5,710.8 1646.9,722.3 1647.2,713.5 1647.5,694.9 1647.9,697.4 1648.2,707.7 1648.5,710.5 1648.9,713.7 1649.2,708.2 1649.5,706.2 1649.8,712.8 1650.2,726.8 1650.5,708.5 1650.8,718.1 1651.2,708.5 1651.5,716.6 1651.8,718.5 1652.2,710.0 1652.5,727.9 1652.8,702.6 1653.2,710.9 1653.5,719.0 1653.8,719.6 1654.1,709.8 1654.5,717.4 1654.8,713.0 1655.1,721.6 1655.5,726.6 1655.8,713.4 1656.1,720.1 1656.5,726.8 1656.8,707.7 1657.1,716.5 1657.4,717.4 1657.8,708.4 1658.1,714.8 1658.4,724.9 1658.8,710.3 1659.1,712.1 1659.4,717.3 1659.8,710.5 1660.1,717.0 1660.4,720.7 1660.7,697.7 1661.1,710.6 1661.4,722.5 1661.7,718.3 1662.1,701.0 1662.4,719.4 1662.7,714.5 1663.0,712.8 1663.4,727.4 1663.7,725.4 1664.0,712.2 1664.4,700.6 1664.7,698.8 1665.0,713.4 1665.4,707.6 1665.7,716.4 1666.0,710.4 1666.3,704.6 1666.7,716.0 1667.0,715.8 1667.3,712.0 1667.7,714.2 1668.0,723.5 1668.3,707.0 1668.7,714.4 1669.0,708.2 1669.3,710.7 1669.7,727.4 1670.0,723.5 1670.3,728.5 1670.6,699.7 1671.0,707.5 1671.3,710.3 1671.6,713.8 1672.0,718.0 1672.3,723.0 1672.6,711.0 1673.0,714.5 1673.3,714.3 1673.6,699.2 1673.9,712.5 1674.3,707.0 1674.6,708.1 1674.9,722.6 1675.3,726.2 1675.6,709.1 1675.9,723.3 1676.2,713.3 1676.6,712.5 1676.9,717.2 1677.2,708.6 1677.6,712.4 1677.9,702.2 1678.2,710.0 1678.6,713.2 1678.9,719.0 1679.2,708.9 1679.5,720.9 1679.9,707.2 1680.2,698.0 1680.5,719.1 1680.9,729.0 1681.2,714.4 1681.5,721.9 1681.9,717.7 1682.2,707.4 1682.5,712.6 1682.8,710.3 1683.2,720.9 1683.5,721.7 1683.8,701.7 1684.2,710.0 1684.5,718.7 1684.8,712.7 1685.2,707.5 1685.5,726.6 1685.8,710.8 1686.2,711.5 1686.5,718.3 1686.8,713.8 1687.1,708.8 1687.5,731.0 1687.8,722.8 1688.1,720.1 1688.5,715.5 1688.8,703.1 1689.1,718.2 1689.5,715.9 1689.8,721.7 1690.1,722.9 1690.4,711.8 1690.8,714.2 1691.1,713.5 1691.4,712.1 1691.8,722.9 1692.1,719.2 1692.4,728.6 1692.8,732.4 1693.1,718.1 1693.4,712.4 1693.7,714.5 1694.1,718.6 1694.4,724.3 1694.7,723.9 1695.1,731.5 1695.4,733.7 1695.7,709.3 1696.0,722.1 1696.4,715.3 1696.7,734.6 1697.0,737.3 1697.4,734.0 1697.7,715.0 1698.0,734.1 1698.4,719.4 1698.7,710.9 1699.0,717.9 1699.3,727.4 1699.7,722.1 1700.0,734.4 1700.3,724.1 1700.7,726.7 1701.0,713.3 1701.3,719.9 1701.7,730.9 1702.0,734.0 1702.3,736.6 1702.7,723.1 1703.0,727.4 1703.3,713.7 1703.6,740.4 1704.0,717.6 1704.3,736.7 1704.6,724.2 1705.0,745.2 1705.3,729.7 1705.6,728.0 1706.0,725.9 1706.3,734.9 1706.6,714.2 1706.9,721.0 1707.3,725.4 1707.6,731.8 1707.9,714.4 1708.3,739.7 1708.6,732.7 1708.9,744.1 1709.2,743.6 1709.6,746.5 1709.9,730.4 1710.2,724.5 1710.6,747.2 1710.9,721.1 1711.2,729.3 1711.6,715.0 1711.9,738.7 1712.2,730.9 1712.5,721.4 1712.9,743.2 1713.2,727.6 1713.5,739.3 1713.9,724.3 1714.2,742.5 1714.5,750.0 1714.9,730.5 1715.2,751.0 1715.5,715.7 1715.8,739.0 1716.2,725.4 1716.5,744.0 1716.8,720.5 1717.2,737.5 1717.5,738.6 1717.8,730.2 1718.2,743.8 1718.5,736.1 1718.8,738.8 1719.2,732.3 1719.5,744.4 1719.8,745.9 1720.1,731.3 1720.5,729.7 1720.8,730.0 1721.1,727.2 1721.5,746.6 1721.8,722.0 1722.1,747.1 1722.5,743.5 1722.8,738.0 1723.1,738.2 1723.4,734.1 1723.8,734.6 1724.1,752.0 1724.4,744.7 1724.8,729.2 1725.1,737.3 1725.4,746.2 1725.8,727.0 1726.1,746.6 1726.4,739.3 1726.7,741.1 1727.1,742.7 1727.4,744.1 1727.7,746.5 1728.1,746.4 1728.4,734.8 1728.7,737.0 1729.0,745.0 1729.4,745.2 1729.7,745.3 1730.0,747.3 1730.4,752.6 1730.7,748.8 1731.0,743.6 1731.4,731.2 1731.7,744.1 1732.0,752.1 1732.3,746.8 1732.7,747.9 1733.0,740.8 1733.3,753.4 1733.7,744.7 1734.0,745.7 1734.3,741.1 1734.7,747.8 1735.0,747.8 1735.3,747.8 1735.7,741.5 1736.0,753.7 1736.3,747.1 1736.6,745.9 1737.0,742.0 1737.3,734.2 1737.6,743.1 1738.0,751.6 1738.3,740.0 1738.6,755.6 1739.0,730.0 1739.3,741.2 1739.6,759.9 1739.9,752.2 1740.3,759.8 1740.6,758.0 1740.9,748.4 1741.3,753.1 1741.6,743.9 1741.9,740.6 1742.2,737.8 1742.6,743.7 1742.9,743.4 1743.2,749.9 1743.6,751.2 1743.9,741.4 1744.2,749.5 1744.6,751.4 1744.9,750.2 1745.2,738.6 1745.5,745.1 1745.9,753.1 1746.2,749.3 1746.5,758.4 1746.9,748.9 1747.2,761.2 1747.5,749.5 1747.9,752.2 1748.2,752.4 1748.5,740.3 1748.8,757.6 1749.2,754.1 1749.5,750.8 1749.8,743.0 1750.2,752.4 1750.5,762.2 1750.8,762.6 1751.2,756.8 1751.5,753.4 1751.8,765.6 1752.2,747.7 1752.5,745.7 1752.8,751.9 1753.1,755.1 1753.5,766.3 1753.8,747.3 1754.1,738.2 1754.5,744.3 1754.8,741.5 1755.1,765.1 1755.5,752.4 1755.8,743.5 1756.1,758.8 1756.4,763.7 1756.8,759.6 1757.1,751.4 1757.4,746.1 1757.8,764.5 1758.1,761.8 1758.4,744.1 1758.8,750.6 1759.1,754.4 1759.4,758.1 1759.7,751.8 1760.1,747.1 1760.4,739.2 1760.7,768.4 1761.1,743.3 1761.4,768.6 1761.7,746.8 1762.0,762.9 1762.4,751.6 1762.7,761.9 1763.0,765.0 1763.4,749.2 1763.7,757.7 1764.0,743.4 1764.4,754.0 1764.7,742.8 1765.0,755.9 1765.3,756.7 1765.7,753.2 1766.0,754.2 1766.3,764.6 1766.7,761.8 1767.0,757.7 1767.3,749.5 1767.7,747.3 1768.0,767.2 1768.3,751.7 1768.7,764.2 1769.0,764.7 1769.3,753.7 1769.6,762.9 1770.0,749.4 1770.3,762.8 1770.6,749.9 1771.0,767.8 1771.3,770.7 1771.6,756.9 1772.0,760.0 1772.3,756.8 1772.6,770.8 1772.9,746.9 1773.3,742.1 1773.6,758.4 1773.9,759.2 1774.3,757.0 1774.6,765.9 1774.9,745.8 1775.2,763.6 1775.6,758.0 1775.9,757.6 1776.2,751.8 1776.6,753.2 1776.9,749.0 1777.2,771.1 1777.6,760.4 1777.9,764.0 1778.2,747.0 1778.5,758.7 1778.9,763.2 1779.2,759.5 1779.5,758.2 1779.9,755.4 1780.2,761.1 1780.5,760.2 1780.9,758.4 1781.2,767.8 1781.5,771.6 1781.8,770.1 1782.2,771.7 1782.5,757.7 1782.8,755.3 1783.2,765.8 1783.5,768.3 1783.8,757.3 1784.2,753.1 1784.5,760.6 1784.8,754.5 1785.2,760.4 1785.5,756.7 1785.8,763.3 1786.1,758.8 1786.5,757.3 1786.8,761.8 1787.1,761.4 1787.5,769.3 1787.8,763.9 1788.1,755.4 1788.5,757.8 1788.8,753.7 1789.1,753.0 1789.4,758.9 1789.8,763.8 1790.1,752.6 1790.4,761.1 1790.8,769.9 1791.1,756.7 1791.4,761.1 1791.8,772.1 1792.1,760.8 1792.4,772.1 1792.7,748.0 1793.1,764.7 1793.4,761.2 1793.7,755.5 1794.1,759.1 1794.4,747.0 1794.7,759.9 1795.0,747.2 1795.4,761.0 1795.7,751.5 1796.0,758.2 1796.4,759.1 1796.7,767.9 1797.0,759.9 1797.4,764.2 1797.7,758.5 1798.0,772.1 1798.3,762.6 1798.7,764.5 1799.0,763.1 1799.3,758.8 1799.7,762.1 1800.0,753.1 1800.3,761.8 1800.7,764.1 1801.0,747.6 1801.3,754.8 1801.7,750.0 1802.0,747.8 1802.3,761.6 1802.6,760.9 1803.0,764.7 1803.3,748.1 1803.6,759.7 1804.0,765.8 1804.3,763.0 1804.6,759.1 1805.0,769.8 1805.3,764.8 1805.6,756.1 1805.9,763.8 1806.3,769.5 1806.6,748.7 1806.9,761.5 1807.3,765.9 1807.6,766.8 1807.9,759.8 1808.2,749.1 1808.6,757.4 1808.9,765.3 1809.2,759.8 1809.6,755.7 1809.9,762.3 1810.2,768.0 1810.6,761.2 1810.9,753.4 1811.2,765.4 1811.5,768.5 1811.9,756.9 1812.2,760.0 1812.5,764.9 1812.9,765.2 1813.2,757.2 1813.5,762.4 1813.9,755.3 1814.2,766.9 1814.5,753.2 1814.8,760.4 1815.2,756.3 1815.5,754.4 1815.8,753.5 1816.2,770.3 1816.5,765.6 1816.8,763.1 1817.2,757.0 1817.5,761.6 1817.8,760.0 1818.2,764.3 1818.5,763.9 1818.8,762.8 1819.1,770.2 1819.5,757.8 1819.8,772.2 1820.1,756.9 1820.5,770.5 1820.8,756.8 1821.1,764.0 1821.5,761.8 1821.8,765.8 1822.1,766.2 1822.4,764.5 1822.8,768.3 1823.1,765.2 1823.4,751.3 1823.8,758.2 1824.1,766.4 1824.4,755.7 1824.8,768.1 1825.1,750.3 1825.4,761.4 1825.7,756.3 1826.1,754.2 1826.4,761.3 1826.7,748.7 1827.1,761.6 1827.4,760.4 1827.7,764.7 1828.0,772.2 1828.4,758.4 1828.7,761.2 1829.0,762.2 1829.4,772.1 1829.7,764.6 1830.0,759.4 1830.4,757.7 1830.7,758.9 1831.0,760.4 1831.3,757.0 1831.7,756.9 1832.0,763.1 1832.3,769.0 1832.7,765.2 1833.0,759.4 1833.3,759.6 1833.7,773.5 1834.0,752.7 1834.3,766.1 1834.7,762.6 1835.0,767.2 1835.3,757.6 1835.6,765.6 1836.0,762.8 1836.3,762.4 1836.6,757.6 1837.0,771.9 1837.3,764.4 1837.6,758.5 1838.0,763.5 1838.3,761.2 1838.6,753.3 1838.9,760.6 1839.3,755.4 1839.6,760.6 1839.9,760.2 1840.3,757.9 1840.6,758.2 1840.9,753.6 1841.2,767.3 1841.6,761.0 1841.9,766.0 1842.2,768.7 1842.6,765.9 1842.9,754.2 1843.2,763.1 1843.6,757.6 1843.9,771.9 1844.2,763.2 1844.5,767.5 1844.9,760.1 1845.2,777.2 1845.5,754.8 1845.9,755.5 1846.2,758.0 1846.5,774.6 1846.9,758.9 1847.2,775.2 1847.5,766.0 1847.8,765.8 1848.2,777.0 1848.5,772.0 1848.8,756.9 1849.2,764.0 1849.5,771.2 1849.8,778.6 1850.2,773.8 1850.5,775.2 1850.8,772.8 1851.2,779.0 1851.5,758.9 1851.8,761.8 1852.1,765.6 1852.5,778.3 1852.8,764.5 1853.1,757.6 1853.5,762.7 1853.8,776.5 1854.1,763.0 1854.5,775.6 1854.8,770.4 1855.1,775.6 1855.4,764.1 1855.8,766.4 1856.1,768.4 1856.4,778.9 1856.8,768.5 1857.1,773.2 1857.4,763.9 1857.8,765.6 1858.1,755.9 1858.4,767.8 1858.7,776.3 1859.1,762.4 1859.4,769.6 1859.7,764.1 1860.1,767.5 1860.4,778.4 1860.7,771.8 1861.0,776.1 1861.4,764.7 1861.7,768.1 1862.0,763.8 1862.4,765.2 1862.7,763.6 1863.0,761.3 1863.4,761.0 1863.7,761.4 1864.0,766.8 1864.3,765.4 1864.7,773.3 1865.0,772.6 1865.3,764.3 1865.7,774.2 1866.0,777.8 1866.3,768.0 1866.7,767.6 1867.0,759.1 1867.3,767.8 1867.7,775.0 1868.0,764.9 1868.3,775.4 1868.6,768.5 1869.0,761.8 1869.3,760.0 1869.6,764.0 1870.0,765.1 1870.3,764.4 1870.6,764.9 1871.0,762.8 1871.3,757.3 1871.6,773.4 1871.9,765.7 1872.3,763.5 1872.6,765.7 1872.9,773.2 1873.3,767.8 1873.6,768.6 1873.9,755.2 1874.2,755.3 1874.6,767.3 1874.9,774.1 1875.2,768.8 1875.6,759.6 1875.9,771.7 1876.2,771.9 1876.6,757.5 1876.9,757.2 1877.2,766.9 1877.5,764.4 1877.9,778.7 1878.2,767.1 1878.5,765.9 1878.9,768.0 1879.2,761.9 1879.5,758.1 1879.9,771.8 1880.2,767.3 1880.5,770.3 1880.8,758.4 1881.2,770.5 1881.5,768.8 1881.8,775.9 1882.2,762.2 1882.5,766.5 1882.8,772.2 1883.2,769.5 1883.5,763.7 1883.8,768.7 1884.2,773.3 1884.5,766.3 1884.8,754.7 1885.1,768.3 1885.5,764.8 1885.8,768.4 1886.1,761.1 1886.5,771.8 1886.8,756.1 1887.1,765.2 1887.5,758.3 1887.8,762.4 1888.1,761.2 1888.4,764.7 1888.8,763.5 1889.1,756.1 1889.4,756.0 1889.8,767.8 1890.1,763.3 1890.4,768.8 1890.8,774.8 1891.1,764.6 1891.4,757.2 1891.7,763.2 1892.1,762.0 1892.4,763.7 1892.7,759.0 1893.1,764.3 1893.4,765.1 1893.7,758.1 1894.0,761.6 1894.4,756.0 1894.7,760.1 1895.0,765.6 1895.4,764.8 1895.7,757.4 1896.0,761.5 1896.4,765.0 1896.7,769.3 1897.0,765.6 1897.3,762.9 1897.7,760.1 1898.0,760.0 1898.3,764.4 1898.7,769.2 1899.0,770.8 1899.3,769.0 1899.7,770.5 1900.0,763.1 1900.3,772.6 1900.7,761.8 1901.0,753.2 1901.3,769.3 1901.6,759.2 1902.0,775.0 1902.3,769.2 1902.6,768.7 1903.0,762.8 1903.3,765.4 1903.6,756.2 1904.0,759.4 1904.3,770.9 1904.6,759.4 1904.9,772.8 1905.3,772.2 1905.6,762.6 1905.9,766.8 1906.3,769.9 1906.6,760.7 1906.9,763.1 1907.2,776.4 1907.6,772.9 1907.9,770.2 1908.2,765.8 1908.6,765.1 1908.9,768.0 1909.2,767.2 1909.6,761.1 1909.9,755.7 1910.2,760.4 1910.5,772.7 1910.9,776.8 1911.2,770.7 1911.5,750.4 1911.9,752.4 1912.2,761.8 1912.5,765.7 1912.9,763.0 1913.2,757.0 1913.5,765.8 1913.8,773.5 1914.2,765.1 1914.5,756.0 1914.8,764.4 1915.2,753.1 1915.5,754.7 1915.8,754.0 1916.2,777.6 1916.5,758.7 1916.8,769.2 1917.2,764.5 1917.5,754.7 1917.8,759.7 1918.1,756.2 1918.5,772.6 1918.8,769.4 1919.1,777.0 1919.5,771.3 1919.8,763.5 1920.1,765.3 1920.5,764.7 1920.8,758.4 1921.1,756.6 1921.4,761.9 1921.8,759.0 1922.1,765.2 1922.4,758.2 1922.8,770.9 1923.1,759.1 1923.4,751.6 1923.8,764.3 1924.1,760.0 1924.4,761.9 1924.7,753.4 1925.1,773.0 1925.4,751.5 1925.7,761.7 1926.1,766.1 1926.4,768.5 1926.7,763.4 1927.1,768.6 1927.4,752.7 1927.7,768.6 1928.0,767.5 1928.4,769.8 1928.7,752.5 1929.0,756.8 1929.4,769.9 1929.7,751.4 1930.0,766.2 1930.3,779.2 1930.7,765.7 1931.0,761.4 1931.3,766.1 1931.7,764.4 1932.0,766.7 1932.3,767.4 1932.7,768.4 1933.0,769.3 1933.3,763.2 1933.7,777.7 1934.0,767.4 1934.3,751.2 1934.6,773.5 1935.0,751.4 1935.3,766.9 1935.6,769.7 1936.0,766.3 1936.3,771.8 1936.6,779.2 1937.0,751.1 1937.3,767.3 1937.6,767.7 1937.9,757.4 1938.3,761.3 1938.6,762.6 1938.9,775.8 1939.3,761.7 1939.6,774.8 1939.9,775.6 1940.2,750.7 1940.6,769.2 1940.9,770.0 1941.2,750.9 1941.6,758.0 1941.9,752.2 1942.2,768.3 1942.6,754.3 1942.9,774.1 1943.2,759.9 1943.6,759.9 1943.9,772.1 1944.2,760.2 1944.5,752.1 1944.9,774.9 1945.2,779.2 1945.5,763.1 1945.9,757.4 1946.2,777.8 1946.5,756.3 1946.8,771.6 1947.2,757.9 1947.5,757.6 1947.8,760.6 1948.2,764.3 1948.5,778.8 1948.8,762.1 1949.2,779.3 1949.5,767.8 1949.8,760.3 1950.2,756.8 1950.5,766.1 1950.8,769.1 1951.1,779.3 1951.5,768.6 1951.8,773.6 1952.1,771.4 1952.5,757.7 1952.8,764.1 1953.1,764.4 1953.5,778.2 1953.8,761.2 1954.1,755.7 1954.4,772.5 1954.8,765.2 1955.1,772.1 1955.4,769.1 1955.8,759.1 1956.1,753.6 1956.4,772.3 1956.8,770.6 1957.1,772.7 1957.4,771.5 1957.7,774.3 1958.1,766.7 1958.4,777.3 1958.7,772.5 1959.1,757.6 1959.4,772.3 1959.7,766.2 1960.1,761.3 1960.4,764.1 1960.7,764.6 1961.0,767.0 1961.4,775.6 1961.7,759.5 1962.0,764.5 1962.4,764.0 1962.7,759.8 1963.0,756.6 1963.3,766.7 1963.7,769.4 1964.0,765.9 1964.3,772.6 1964.7,772.2 1965.0,764.6 1965.3,771.6 1965.7,763.4 1966.0,773.9 1966.3,769.6 1966.7,763.8 1967.0,764.5 1967.3,769.3 1967.6,763.4 1968.0,764.8 1968.3,772.8 1968.6,773.5 1969.0,779.4 1969.3,779.4 1969.6,761.7 1970.0,770.2 1970.3,764.6 1970.6,772.6 1970.9,779.4 1971.3,758.2 1971.6,766.4 1971.9,770.8 1972.3,765.7 1972.6,779.4 1972.9,776.4 1973.2,765.0 1973.6,769.9 1973.9,758.9 1974.2,770.2 1974.6,775.2 1974.9,759.1 1975.2,770.1 1975.6,760.3 1975.9,762.3 1976.2,780.2 1976.6,775.8 1976.9,768.0 1977.2,762.8 1977.5,765.4 1977.9,770.8 1978.2,777.2 1978.5,768.1 1978.9,780.7 1979.2,766.1 1979.5,772.0 1979.8,763.5 1980.2,770.6 1980.5,773.5 1980.8,778.0 1981.2,778.3 1981.5,767.3 1981.8,771.4 1982.2,781.3 1982.5,777.0 1982.8,770.5 1983.2,772.3 1983.5,768.5 1983.8,767.3 1984.1,773.4 1984.5,758.9 1984.8,758.2 1985.1,768.4 1985.5,773.4 1985.8,768.3 1986.1,772.3 1986.5,772.7 1986.8,769.0 1987.1,774.6 1987.4,768.8 1987.8,774.9 1988.1,770.7 1988.4,770.9 1988.8,765.3 1989.1,762.8 1989.4,778.9 1989.8,758.9 1990.1,757.0 1990.4,759.7 1990.7,766.6 1991.1,767.3 1991.4,769.9 1991.7,767.1 1992.1,769.6 1992.4,777.4 1992.7,783.5 1993.1,764.8 1993.4,760.4 1993.7,773.9 1994.0,766.8 1994.4,763.6 1994.7,774.5 1995.0,771.2 1995.4,778.3 1995.7,768.5 1996.0,776.1 1996.3,769.5 1996.7,759.2 1997.0,773.2 1997.3,756.7 1997.7,778.9 1998.0,764.3 1998.3,768.5 1998.7,769.0 1999.0,756.6 1999.3,774.6 1999.7,776.8 2000.0,780.2 2000.3,785.0 2000.6,761.3 2001.0,772.2 2001.3,756.5 2001.6,767.0 2002.0,775.0 2002.3,764.1 2002.6,769.2 2003.0,778.9 2003.3,766.1 2003.6,785.3 2003.9,767.9 2004.3,774.3 2004.6,778.1 2004.9,765.2 2005.3,774.3 2005.6,767.6 2005.9,771.5 2006.2,771.4 2006.6,776.4 2006.9,770.2 2007.2,764.6 2007.6,760.1 2007.9,775.7 2008.2,756.8 2008.6,779.3 2008.9,769.1 2009.2,756.9 2009.6,769.7 2009.9,764.1 2010.2,769.3 2010.5,757.0 2010.9,783.6 2011.2,774.7 2011.5,772.5 2011.9,761.5 2012.2,786.2 2012.5,769.7 2012.8,767.1 2013.2,776.5 2013.5,768.1 2013.8,765.1 2014.2,777.7 2014.5,780.1 2014.8,777.2 2015.2,780.5 2015.5,768.2 2015.8,780.7 2016.2,760.6 2016.5,769.0 2016.8,769.9 2017.1,764.5 2017.5,764.4 2017.8,763.9 2018.1,774.7 2018.5,781.5 2018.8,766.0 2019.1,763.4 2019.5,775.0 2019.8,766.2 2020.1,766.6 2020.4,767.7 2020.8,769.3 2021.1,770.1 2021.4,779.2 2021.8,774.3 2022.1,762.2 2022.4,768.2 2022.8,761.4 2023.1,782.6 2023.4,770.0 2023.7,759.1 2024.1,758.6 2024.4,772.4 2024.7,760.3 2025.1,758.4 2025.4,782.9 2025.7,781.9 2026.1,774.2 2026.4,774.9 2026.7,772.5 2027.0,761.6 2027.4,780.8 2027.7,769.6 2028.0,775.3 2028.4,775.1 2028.7,772.2 2029.0,767.6 2029.3,784.7 2029.7,761.4 2030.0,777.7 2030.3,765.1 2030.7,773.1 2031.0,775.5 2031.3,769.3 2031.7,768.3 2032.0,765.1 2032.3,766.4 2032.7,776.5 2033.0,780.8 2033.3,778.0 2033.6,762.9 2034.0,764.0 2034.3,771.8 2034.6,782.0 2035.0,772.2 2035.3,766.3 2035.6,772.1 2036.0,768.4 2036.3,781.6 2036.6,776.5 2036.9,774.7 2037.3,771.1 2037.6,765.3 2037.9,769.5 2038.3,784.6 2038.6,778.9 2038.9,777.7 2039.2,762.9 2039.6,765.9 2039.9,763.7 2040.2,761.3 2040.6,767.2 2040.9,765.3 2041.2,775.6 2041.6,777.1 2041.9,769.7 2042.2,776.8 2042.6,773.3 2042.9,765.1 2043.2,762.2 2043.5,776.4 2043.9,771.4 2044.2,772.5 2044.5,773.5 2044.9,776.4 2045.2,770.4 2045.5,763.5 2045.8,760.7 2046.2,779.9 2046.5,762.9 2046.8,774.1 2047.2,767.1 2047.5,770.2 2047.8,771.6 2048.2,770.1 2048.5,778.4 2048.8,772.8 2049.2,772.7 2049.5,769.8 2049.8,771.3 2050.1,774.1 2050.5,779.4 2050.8,763.7 2051.1,771.4 2051.5,762.1 2051.8,766.2 2052.1,772.7 2052.4,780.0 2052.8,782.6 2053.1,768.6 2053.4,768.9 2053.8,776.8 2054.1,775.3 2054.4,765.9 2054.8,779.2 2055.1,774.1 2055.4,771.6 2055.8,773.5 2056.1,774.8 2056.4,782.1 2056.7,772.3 2057.1,773.3 2057.4,770.6 2057.7,774.5 2058.1,773.5 2058.4,776.3 2058.7,775.0 2059.1,778.5 2059.4,773.0 2059.7,770.5 2060.0,775.2 2060.4,765.3 2060.7,763.5 2061.0,772.5 2061.4,769.8 2061.7,785.2 2062.0,769.1 2062.3,780.4 2062.7,776.9 2063.0,770.3 2063.3,773.2 2063.7,771.8 2064.0,771.4 2064.3,777.4 2064.7,776.9 2065.0,774.3 2065.3,778.2 2065.7,782.1 2066.0,764.5 2066.3,773.7 2066.6,769.9 2067.0,772.0 2067.3,766.5 2067.6,766.1 2068.0,776.0 2068.3,771.9 2068.6,783.3 2068.9,774.8 2069.3,766.1 2069.6,779.2 2069.9,774.9 2070.3,772.7 2070.6,780.2 2070.9,775.7 2071.3,774.6 2071.6,779.6 2071.9,768.9 2072.2,774.0 2072.6,772.9 2072.9,765.7 2073.2,785.1 2073.6,767.3 2073.9,770.3 2074.2,771.8 2074.6,777.2 2074.9,772.3 2075.2,779.7 2075.6,769.7 2075.9,779.9 2076.2,777.3 2076.5,774.1 2076.9,776.6 2077.2,772.9 2077.5,772.3 2077.9,771.8 2078.2,775.6 2078.5,775.0 2078.8,774.1 2079.2,778.6 2079.5,777.3 2079.8,774.5 2080.2,777.2 2080.5,765.3 2080.8,765.4 2081.2,780.2 2081.5,781.9 2081.8,768.2 2082.2,780.2 2082.5,775.7 2082.8,780.6 2083.1,779.1 2083.5,765.2 2083.8,777.1 2084.1,769.3 2084.5,767.7 2084.8,776.0 2085.1,777.6 2085.4,780.3 2085.8,771.3 2086.1,772.8 2086.4,772.5 2086.8,780.1 2087.1,774.9 2087.4,782.0 2087.8,775.1 2088.1,775.6 2088.4,773.9 2088.8,783.5 2089.1,779.4 2089.4,777.7 2089.7,769.2 2090.1,775.4 2090.4,775.0 2090.7,786.6 2091.1,767.1 2091.4,772.0 2091.7,771.5 2092.1,783.4 2092.4,777.5 2092.7,773.6 2093.0,777.1 2093.4,783.6 2093.7,784.1 2094.0,768.1 2094.4,782.3 2094.7,773.8 2095.0,773.0 2095.3,778.5 2095.7,779.9 2096.0,772.8 2096.3,778.6 2096.7,782.5 2097.0,776.1 2097.3,776.3 2097.7,770.9 2098.0,780.2 2098.3,773.0 2098.7,775.1 2099.0,780.1 2099.3,765.9 2099.6,786.8 2100.0,779.0 2100.3,771.3 2100.6,779.2 2101.0,780.1 2101.3,779.5 2101.6,778.7 2101.9,775.6 2102.3,786.9 2102.6,772.0 2102.9,767.7 2103.3,772.0 2103.6,769.2 2103.9,782.3 2104.3,775.2 2104.6,774.4 2104.9,774.6 2105.2,777.9 2105.6,783.5 2105.9,774.6 2106.2,781.3 2106.6,766.5 2106.9,778.3 2107.2,782.3 2107.6,779.1 2107.9,782.6 2108.2,773.3 2108.6,784.6 2108.9,780.6 2109.2,766.8 2109.5,775.1 2109.9,781.4 2110.2,787.0 2110.5,777.9 2110.9,777.5 2111.2,771.0 2111.5,768.6 2111.8,779.8 2112.2,774.5 2112.5,778.4 2112.8,778.0 2113.2,784.1 2113.5,778.8 2113.8,778.0 2114.2,784.5 2114.5,776.1 2114.8,782.1 2115.2,783.2 2115.5,777.9 2115.8,778.5 2116.1,775.6 2116.5,779.2 2116.8,780.3 2117.1,786.0 2117.5,778.1 2117.8,770.4 2118.1,775.3 2118.4,776.1 2118.8,773.3 2119.1,776.4 2119.4,779.7 2119.8,770.3 2120.1,777.4 2120.4,768.3 2120.8,782.2 2121.1,781.6 2121.4,774.6 2121.8,784.4 2122.1,776.6 2122.4,778.9 2122.7,777.6 2123.1,776.2 2123.4,775.2 2123.7,773.5 2124.1,777.6 2124.4,785.8 2124.7,772.6 2125.1,772.5 2125.4,783.8 2125.7,786.6 2126.0,772.8 2126.4,778.5 2126.7,773.3 2127.0,776.3 2127.4,790.5 2127.7,775.4 2128.0,784.4 2128.3,779.4 2128.7,780.1 2129.0,772.0 2129.3,775.9 2129.7,779.2 2130.0,777.6 2130.3,774.8 2130.7,778.3 2131.0,772.8 2131.3,772.4 2131.7,775.3 2132.0,779.1 2132.3,770.2 2132.6,787.3 2133.0,773.6 2133.3,780.1 2133.6,781.7 2134.0,771.6 2134.3,777.7 2134.6,782.7 2134.9,787.3 2135.3,776.9 2135.6,783.7 2135.9,775.2 2136.3,775.3 2136.6,776.8 2136.9,781.3 2137.3,769.1 2137.6,775.8 2137.9,777.8 2138.2,775.2 2138.6,787.4 2138.9,784.5 2139.2,782.5 2139.6,786.6 2139.9,772.7 2140.2,782.3 2140.6,776.3 2140.9,771.8 2141.2,777.5 2141.6,779.7 2141.9,780.3 2142.2,774.3 2142.5,783.9 2142.9,786.6 2143.2,784.2 2143.5,782.8 2143.9,777.9 2144.2,784.1 2144.5,774.5 2144.8,769.8 2145.2,788.2 2145.5,780.2 2145.8,780.7 2146.2,781.6 2146.5,779.9 2146.8,783.8 2147.2,777.4 2147.5,775.5 2147.8,777.2 2148.2,784.5 2148.5,782.6 2148.8,783.6 2149.1,771.9 2149.5,782.8 2149.8,780.7 2150.1,774.9 2150.5,769.1 2150.8,778.1 2151.1,778.3 2151.4,778.0 2151.8,778.9 2152.1,785.8 2152.4,779.3 2152.8,770.9 2153.1,777.9 2153.4,776.3 2153.8,770.5 2154.1,782.5 2154.4,780.5 2154.8,782.7 2155.1,782.3 2155.4,777.0 2155.7,787.8 2156.1,773.1 2156.4,787.8 2156.7,786.3 2157.1,787.0 2157.4,769.8 2157.7,782.5 2158.1,787.2 2158.4,776.7 2158.7,779.9 2159.0,781.7 2159.4,786.4 2159.7,779.2 2160.0,776.8 2160.4,778.7 2160.7,787.9 2161.0,783.0 2161.3,780.5 2161.7,780.9 2162.0,784.7 2162.3,783.4 2162.7,780.2 2163.0,774.3 2163.3,780.8 2163.7,771.2 2164.0,781.9 2164.3,780.5 2164.7,783.5 2165.0,780.9 2165.3,774.9 2165.6,781.8 2166.0,780.7 2166.3,788.0 2166.6,781.9 2167.0,781.2 2167.3,774.8 2167.6,774.0 2167.9,784.5 2168.3,778.0 2168.6,779.6 2168.9,777.1 2169.3,784.3 2169.6,779.1 2169.9,778.5 2170.3,777.2 2170.6,777.8 2170.9,771.6 2171.2,775.3 2171.6,771.6 2171.9,786.7 2172.2,784.4 2172.6,783.9 2172.9,775.3 2173.2,786.0 2173.6,777.3 2173.9,780.4 2174.2,781.6 2174.6,771.8 2174.9,784.6 2175.2,780.7 2175.5,773.2 2175.9,776.2 2176.2,783.2 2176.5,777.3 2176.9,788.1 2177.2,774.7 2177.5,781.7 2177.8,781.8 2178.2,776.5 2178.5,774.4 2178.8,784.3 2179.2,781.9 2179.5,778.8 2179.8,781.4 2180.2,781.3 2180.5,782.4 2180.8,783.2 2181.2,778.3 2181.5,784.2 2181.8,782.9 2182.1,779.3 2182.5,780.5 2182.8,772.3 2183.1,785.7 2183.5,777.6 2183.8,783.9 2184.1,783.3 2184.4,780.5 2184.8,776.8 2185.1,779.8 2185.4,777.8 2185.8,788.6 2186.1,777.2 2186.4,783.0 2186.8,777.7 2187.1,782.8 2187.4,785.1 2187.8,773.1 2188.1,787.4 2188.4,780.0 2188.7,788.7 2189.1,784.0 2189.4,782.1 2189.7,778.7 2190.1,779.3 2190.4,785.8 2190.7,776.7 2191.1,773.4 2191.4,778.9 2191.7,779.5 2192.0,774.1 2192.4,784.9 2192.7,779.1 2193.0,779.1 2193.4,773.5 2193.7,787.3 2194.0,777.4 2194.3,782.9 2194.7,782.4 2195.0,784.5 2195.3,792.5 2195.7,786.1 2196.0,785.8 2196.3,788.9 2196.7,785.1 2197.0,781.8 2197.3,781.5 2197.7,781.1 2198.0,789.0 2198.3,778.7 2198.6,776.1 2199.0,779.7 2199.3,787.8 2199.6,779.9 2200.0,773.3 2200.3,781.3 2200.6,774.0 2200.9,789.1 2201.3,777.5 2201.6,777.9 2201.9,783.4 2202.3,789.1 2202.6,775.8 2202.9,777.0 2203.3,776.6 2203.6,783.1 2203.9,780.8 2204.2,783.8 2204.6,781.3 2204.9,782.8 2205.2,776.0 2205.6,785.4 2205.9,784.6 2206.2,781.9 2206.6,784.3 2206.9,782.9 2207.2,780.2 2207.6,775.9 2207.9,779.2 2208.2,779.5 2208.5,776.3 2208.9,784.2 2209.2,779.4 2209.5,782.9 2209.9,783.6 2210.2,787.5 2210.5,786.5 2210.8,781.5 2211.2,777.6 2211.5,782.1 2211.8,781.8 2212.2,789.0 2212.5,785.3 2212.8,782.5 2213.2,780.8 2213.5,781.2 2213.8,777.9 2214.2,779.9 2214.5,783.6 2214.8,784.0 2215.1,777.9 2215.5,781.4 2215.8,779.7 2216.1,782.1 2216.5,781.7 2216.8,780.0 2217.1,779.0 2217.4,788.0 2217.8,778.5 2218.1,783.8 2218.4,777.5 2218.8,781.5 2219.1,779.1 2219.4,782.9 2219.8,778.0 2220.1,782.2 2220.4,783.5 2220.8,783.6 2221.1,785.5 2221.4,780.7 2221.7,778.6 2222.1,786.6 2222.4,783.2 2222.7,782.0 2223.1,780.0 2223.4,783.2 2223.7,784.2 2224.1,775.3 2224.4,784.9 2224.7,784.1 2225.0,784.4 2225.4,784.3 2225.7,782.7 2226.0,789.8 2226.4,779.7 2226.7,784.8 2227.0,779.9 2227.3,783.7 2227.7,788.1 2228.0,782.2 2228.3,777.3 2228.7,775.2 2229.0,783.8 2229.3,779.2 2229.7,782.8 2230.0,779.8 2230.3,780.4 2230.7,789.9 2231.0,784.9 2231.3,777.6 2231.6,778.5 2232.0,787.2 2232.3,787.4 2232.6,780.0 2233.0,781.7 2233.3,782.8 2233.6,774.5 2233.9,789.9 2234.3,780.2 2234.6,783.1 2234.9,776.6 2235.3,782.3 2235.6,782.6 2235.9,779.7 2236.3,779.6 2236.6,783.3 2236.9,776.5 2237.2,780.8 2237.6,781.8 2237.9,783.8 2238.2,775.4 2238.6,778.4 2238.9,779.7 2239.2,776.4 2239.6,784.0 2239.9,779.8 2240.2,784.4 2240.6,788.3 2240.9,786.5 2241.2,790.0 2241.5,781.7 2241.9,786.8 2242.2,777.7 2242.5,779.6 2242.9,774.6 2243.2,787.2 2243.5,784.8 2243.8,788.7 2244.2,790.1 2244.5,777.4 2244.8,782.1 2245.2,780.0 2245.5,788.6 2245.8,781.6 2246.2,780.0 2246.5,782.0 2246.8,780.8 2247.2,779.8 2247.5,784.0 2247.8,780.5 2248.1,779.6 2248.5,783.5 2248.8,782.0 2249.1,783.0 2249.5,783.9 2249.8,785.7 2250.1,786.2 2250.4,787.1 2250.8,784.0 2251.1,785.9 2251.4,776.5 2251.8,778.9 2252.1,779.0 2252.4,779.4 2252.8,786.0 2253.1,788.9 2253.4,785.5 2253.8,783.9 2254.1,774.9 2254.4,789.0 2254.7,784.6 2255.1,778.4 2255.4,782.8 2255.7,783.9 2256.1,775.9 2256.4,775.0 2256.7,782.4 2257.1,775.0 2257.4,776.9 2257.7,775.0 2258.0,783.2 2258.4,790.3 2258.7,782.0 2259.0,787.4 2259.4,782.8 2259.7,790.3 2260.0,790.3 2260.3,785.5 2260.7,788.5 2261.0,778.7 2261.3,782.3 2261.7,779.3 2262.0,778.1 2262.3,778.4 2262.7,784.5 2263.0,780.7 2263.3,788.7 2263.7,783.4 2264.0,782.2 2264.3,781.5 2264.6,785.6 2265.0,785.1 2265.3,780.8 2265.6,782.1 2266.0,784.9 2266.3,789.0 2266.6,783.6 2266.9,781.1 2267.3,789.1 2267.6,788.7 2267.9,782.8 2268.3,783.0 2268.6,779.1 2268.9,778.4 2269.3,781.1 2269.6,781.7 2269.9,788.2 2270.2,779.5 2270.6,786.8 2270.9,777.0 2271.2,776.7 2271.6,780.6 2271.9,784.1 2272.2,784.6 2272.6,786.1 2272.9,782.5 2273.2,779.5 2273.6,787.8 2273.9,785.3 2274.2,771.7 2274.5,782.0 2274.9,784.3 2275.2,790.6 2275.5,782.7 2275.9,780.0 2276.2,786.7 2276.5,782.9 2276.8,776.1 2277.2,784.0 2277.5,784.3 2277.8,780.6 2278.2,789.1 2278.5,782.1 2278.8,783.1 2279.2,779.7 2279.5,787.0 2279.8,779.0 2280.2,777.2 2280.5,780.4 2280.8,776.3 2281.1,785.1 2281.5,789.4 2281.8,781.1 2282.1,778.1 2282.5,776.6 2282.8,785.6 2283.1,787.5 2283.4,786.4 2283.8,782.2 2284.1,783.1 2284.4,781.9 2284.8,780.9 2285.1,790.2 2285.4,783.8 2285.8,777.7 2286.1,788.0 2286.4,784.5 2286.8,776.0 2287.1,778.3 2287.4,785.1 2287.7,778.2 2288.1,789.0 2288.4,776.8 2288.7,786.7 2289.1,784.4 2289.4,774.4 2289.7,788.5 2290.1,779.5 2290.4,787.9 2290.7,781.4 2291.0,779.5 2291.4,782.6 2291.7,782.8 2292.0,781.8 2292.4,775.4 2292.7,785.5 2293.0,785.6 2293.3,776.5 2293.7,783.4 2294.0,781.1 2294.3,781.6 2294.7,778.9 2295.0,782.9 2295.3,793.5 2295.7,781.5 2296.0,786.0 2296.3,788.9 2296.7,783.0 2297.0,785.5 2297.3,786.6 2297.6,783.7 2298.0,787.3 2298.3,785.6 2298.6,786.4 2299.0,777.4 2299.3,780.3 2299.6,787.9 2299.9,782.9 2300.3,780.5 2300.6,787.3 2300.9,780.8 2301.3,786.9 2301.6,782.4 2301.9,783.7 2302.3,781.0 2302.6,781.2 2302.9,784.9 2303.2,784.3 2303.6,780.2 2303.9,780.9 2304.2,782.7 2304.6,780.9 2304.9,777.3 2305.2,787.3 2305.6,778.3 2305.9,773.5 2306.2,785.0 2306.6,786.1 2306.9,773.4 2307.2,781.5 2307.5,780.2 2307.9,777.6 2308.2,775.3 2308.5,783.6 2308.9,781.1 2309.2,784.0 2309.5,786.0 2309.8,782.1 2310.2,784.4 2310.5,789.8 2310.8,778.6 2311.2,785.4 2311.5,794.6 2311.8,781.0 2312.2,782.3 2312.5,780.9 2312.8,776.2 2313.2,777.6 2313.5,788.8 2313.8,784.8 2314.1,787.6 2314.5,784.9 2314.8,791.4 2315.1,785.0 2315.5,787.7 2315.8,773.2 2316.1,777.7 2316.4,775.2 2316.8,781.7 2317.1,786.5 2317.4,780.2 2317.8,772.9 2318.1,790.3 2318.4,785.5 2318.8,784.6 2319.1,779.2 2319.4,791.5 2319.8,785.7 2320.1,780.1 2320.4,779.9 2320.7,778.3 2321.1,780.6 2321.4,778.4 2321.7,787.2 2322.1,779.1 2322.4,791.5 2322.7,790.3 2323.1,778.1 2323.4,780.5 2323.7,782.7 2324.0,782.5 2324.4,783.3 2324.7,788.0 2325.0,784.2 2325.4,780.5 2325.7,782.2 2326.0,778.0 2326.3,781.3 2326.7,776.4 2327.0,781.1 2327.3,778.7 2327.7,774.7 2328.0,778.0 2328.3,774.6 2328.7,785.0 2329.0,782.2 2329.3,779.1 2329.7,780.6 2330.0,777.5 2330.3,777.3 2330.6,785.0 2331.0,770.5 2331.3,785.8 2331.6,778.5 2332.0,776.8 2332.3,776.0 2332.6,779.0 2332.9,794.3 2333.3,780.3 2333.6,786.6 2333.9,780.0 2334.3,773.6 2334.6,781.0 2334.9,788.9 2335.3,774.2 2335.6,785.4 2335.9,788.3 2336.2,785.1 2336.6,771.9 2336.9,781.4 2337.2,783.1 2337.6,776.5 2337.9,784.4 2338.2,776.5 2338.6,772.6 2338.9,775.2 2339.2,775.5 2339.6,784.1 2339.9,781.3 2340.2,791.2 2340.5,790.9 2340.9,773.8 2341.2,787.3 2341.5,789.7 2341.9,787.8 2342.2,782.2 2342.5,788.9 2342.8,782.0 2343.2,785.0 2343.5,791.3 2343.8,782.1 2344.2,779.4 2344.5,779.6 2344.8,782.5 2345.2,791.5 2345.5,781.1 2345.8,779.8 2346.2,783.9 2346.5,777.3 2346.8,780.7 2347.1,776.3 2347.5,780.9 2347.8,784.6 2348.1,778.4 2348.5,772.4 2348.8,778.7 2349.1,783.1 2349.4,781.1 2349.8,777.6 2350.1,781.8 2350.4,786.9 2350.8,784.7 2351.1,779.6 2351.4,791.5 2351.8,788.6 2352.1,782.6 2352.4,790.7 2352.8,776.7 2353.1,774.7 2353.4,780.4 2353.7,788.4 2354.1,782.7 2354.4,781.9 2354.7,778.4 2355.1,785.7 2355.4,775.4 2355.7,789.0 2356.1,786.2 2356.4,778.5 2356.7,780.7 2357.0,791.5 2357.4,772.7 2357.7,782.3 2358.0,781.5 2358.4,790.3 2358.7,786.7 2359.0,781.9 2359.3,780.7 2359.7,789.1 2360.0,772.8 2360.3,785.1 2360.7,777.3 2361.0,783.3 2361.3,776.7 2361.7,775.0 2362.0,785.1 2362.3,784.6 2362.7,775.3 2363.0,782.3 2363.3,778.8 2363.6,785.3 2364.0,787.2 2364.3,773.6 2364.6,784.5 2365.0,773.0 2365.3,780.5 2365.6,783.7 2365.9,776.0 2366.3,782.7 2366.6,780.5 2366.9,787.9 2367.3,785.5 2367.6,780.2 2367.9,791.1 2368.3,785.7 2368.6,782.2 2368.9,782.0 2369.2,788.9 2369.6,783.6 2369.9,783.3 2370.2,785.7 2370.6,780.8 2370.9,779.1 2371.2,791.5 2371.6,785.5 2371.9,786.5 2372.2,784.9 2372.6,783.2 2372.9,785.7 2373.2,776.4 2373.5,774.7 2373.9,782.6 2374.2,783.8 2374.5,780.1 2374.9,778.6 2375.2,778.1 2375.5,779.8 2375.8,780.7 2376.2,787.7 2376.5,787.3 2376.8,778.7 2377.2,779.3 2377.5,779.8 2377.8,781.6 2378.2,779.6 2378.5,782.7 2378.8,784.7 2379.2,777.0 2379.5,783.4 2379.8,785.2 2380.1,781.3 2380.5,783.3 2380.8,779.9 2381.1,782.6 2381.5,790.4 2381.8,783.6 2382.1,785.2 2382.4,783.2 2382.8,784.4 2383.1,786.3 2383.4,777.1 2383.8,783.8 2384.1,779.0 2384.4,781.2 2384.8,783.3 2385.1,786.1 2385.4,788.0 2385.8,783.1 2386.1,780.5 2386.4,780.5 2386.7,783.6 2387.1,783.7 2387.4,778.6 2387.7,788.3 2388.1,779.2 2388.4,784.1 2388.7,782.3 2389.1,793.8 2389.4,776.3 2389.7,778.9 2390.0,784.4 2390.4,788.1 2390.7,781.5 2391.0,783.3 2391.4,781.7 2391.7,780.7 2392.0,786.6 2392.3,787.0 2392.7,781.7 2393.0,781.9 2393.3,787.4 2393.7,779.2 2394.0,786.7 2394.3,776.8 2394.7,786.5 2395.0,781.8 2395.3,785.8 2395.7,784.3 2396.0,788.4 2396.3,776.6 2396.6,779.5 2397.0,782.5 2397.3,790.9 2397.6,782.8 2398.0,780.5 2398.3,775.5 2398.6,786.7 2398.9,786.0 2399.3,789.5 2399.6,785.5 2399.9,790.4 2400.3,784.7 2400.6,780.0 2400.9,778.1 2401.3,776.0 2401.6,780.5 2401.9,776.0 2402.2,791.3 2402.6,781.0 2402.9,775.8 2403.2,783.0 2403.6,775.8 2403.9,776.5 2404.2,787.3 2404.6,780.9 2404.9,779.0 2405.2,784.8 2405.6,781.5 2405.9,790.5 2406.2,788.1 2406.5,782.5 2406.9,783.5 2407.2,785.5 2407.5,782.9 2407.9,788.6 2408.2,781.3 2408.5,789.3 2408.8,788.7 2409.2,793.9 2409.5,778.3 2409.8,790.3 2410.2,782.5 2410.5,783.1 2410.8,786.6 2411.2,783.6 2411.5,786.4 2411.8,780.9 2412.2,782.2 2412.5,782.0 2412.8,784.7 2413.1,780.2 2413.5,774.2 2413.8,784.4 2414.1,777.1 2414.5,783.0 2414.8,778.8 2415.1,783.0 2415.4,782.8 2415.8,777.2 2416.1,782.8 2416.4,778.2 2416.8,781.8 2417.1,777.7 2417.4,784.2 2417.8,785.1 2418.1,790.7 2418.4,775.9 2418.8,787.0 2419.1,778.2 2419.4,775.4 2419.7,785.7 2420.1,786.3 2420.4,777.0 2420.7,778.0 2421.1,780.3 2421.4,790.6 2421.7,781.1 2422.1,781.1 2422.4,775.4 2422.7,789.4 2423.0,776.8 2423.4,781.1 2423.7,779.6 2424.0,779.6 2424.4,786.7 2424.7,775.2 2425.0,779.3 2425.3,787.0 2425.7,785.9 2426.0,787.0 2426.3,783.7 2426.7,786.6 2427.0,780.5 2427.3,785.7 2427.7,784.7 2428.0,787.7 2428.3,774.7 2428.7,787.6 2429.0,785.5 2429.3,784.6 2429.6,777.9 2430.0,783.8 2430.3,783.1 2430.6,784.0 2431.0,786.9 2431.3,783.2 2431.6,786.3 2431.9,779.0 2432.3,778.6 2432.6,787.5 2432.9,783.7 2433.3,787.1 2433.6,781.0 2433.9,782.5 2434.3,778.5 2434.6,773.8 2434.9,775.9 2435.2,778.2 2435.6,785.6 2435.9,788.4 2436.2,782.6 2436.6,785.9 2436.9,781.0 2437.2,778.7 2437.6,781.9 2437.9,777.2 2438.2,782.1 2438.6,778.6 2438.9,778.3 2439.2,780.8 2439.5,774.1 2439.9,779.5 2440.2,780.6 2440.5,781.3 2440.9,774.8 2441.2,783.6 2441.5,785.5 2441.9,788.0" fill="none" stroke="#f50000" stroke-width="6.6" stroke-linejoin="bevel"/>
</g>
<rect x="1406.6" y="50.9" width="1032.9" height="803.5" fill="none" stroke="#000" stroke-width="6.9" stroke-linejoin="miter"/>
<rect x="1533.3" y="836.9" width="4.8" height="15" fill="#000"/>
<rect x="1662.4" y="836.9" width="4.8" height="15" fill="#000"/>
<rect x="1791.5" y="836.9" width="4.8" height="15" fill="#000"/>
<rect x="1920.6" y="836.9" width="4.8" height="15" fill="#000"/>
<rect x="2049.8" y="836.9" width="4.8" height="15" fill="#000"/>
<rect x="2178.9" y="836.9" width="4.8" height="15" fill="#000"/>
<rect x="2308.0" y="836.9" width="4.8" height="15" fill="#000"/>
<rect x="1468.8" y="845.9" width="4.8" height="6" fill="#000"/>
<rect x="1597.9" y="845.9" width="4.8" height="6" fill="#000"/>
<rect x="1727.0" y="845.9" width="4.8" height="6" fill="#000"/>
<rect x="1856.1" y="845.9" width="4.8" height="6" fill="#000"/>
<rect x="1985.2" y="845.9" width="4.8" height="6" fill="#000"/>
<rect x="2114.3" y="845.9" width="4.8" height="6" fill="#000"/>
<rect x="2243.4" y="845.9" width="4.8" height="6" fill="#000"/>
<rect x="2372.5" y="845.9" width="4.8" height="6" fill="#000"/>
<text transform="translate(1379.07 912.15) scale(0.9118 1)" font-size="54.51">10</text>
<text transform="translate(1503.90 912.15) scale(1.0256 1)" font-size="54.51">20</text>
<text transform="translate(1633.93 912.15) scale(0.9944 1)" font-size="54.51">30</text>
<text transform="translate(1764.41 912.15) scale(0.9435 1)" font-size="54.51">40</text>
<text transform="translate(1893.07 912.15) scale(0.9767 1)" font-size="54.51">50</text>
<text transform="translate(2021.94 912.15) scale(0.9755 1)" font-size="54.51">60</text>
<text transform="translate(2150.72 912.15) scale(1.0184 1)" font-size="54.51">70</text>
<text transform="translate(2280.15 912.15) scale(0.9992 1)" font-size="54.51">80</text>
<text transform="translate(2411.31 912.15) scale(0.9351 1)" font-size="54.51">90</text>
<text transform="translate(1737.28 997.34) scale(0.9840 1)" font-size="53.16">2 theta (degree)</text>
<text transform="translate(1371.95 624.74) rotate(-90) scale(0.9807 1)" font-size="55.94">Intensity (a.u.)</text>
<path d="M2175.5 106.9 L2179.0 102.5 L2297.5 102.5 L2301 106.9 L2297.5 111.30000000000001 L2179.0 111.30000000000001 Z" fill="#000"/>
<path d="M2176.5 173.3 L2180.0 168.9 L2297.5 168.9 L2301 173.3 L2297.5 177.70000000000002 L2180.0 177.70000000000002 Z" fill="#8e2530"/>
<rect x="2183" y="168.90" width="111.5" height="8.8" fill="#eb0505"/>
<text transform="translate(2310.90 122.80) scale(0.9212 1)" font-size="55.65">NPA</text>
<text transform="translate(2310.96 189.30) scale(0.9055 1)" font-size="55.80">LPA</text>
<text class="lab" transform="translate(1262.32 78.66) scale(1.0591 1)" font-size="83.95">b</text>
</g>
</g>
</svg>
</body>
</html>
